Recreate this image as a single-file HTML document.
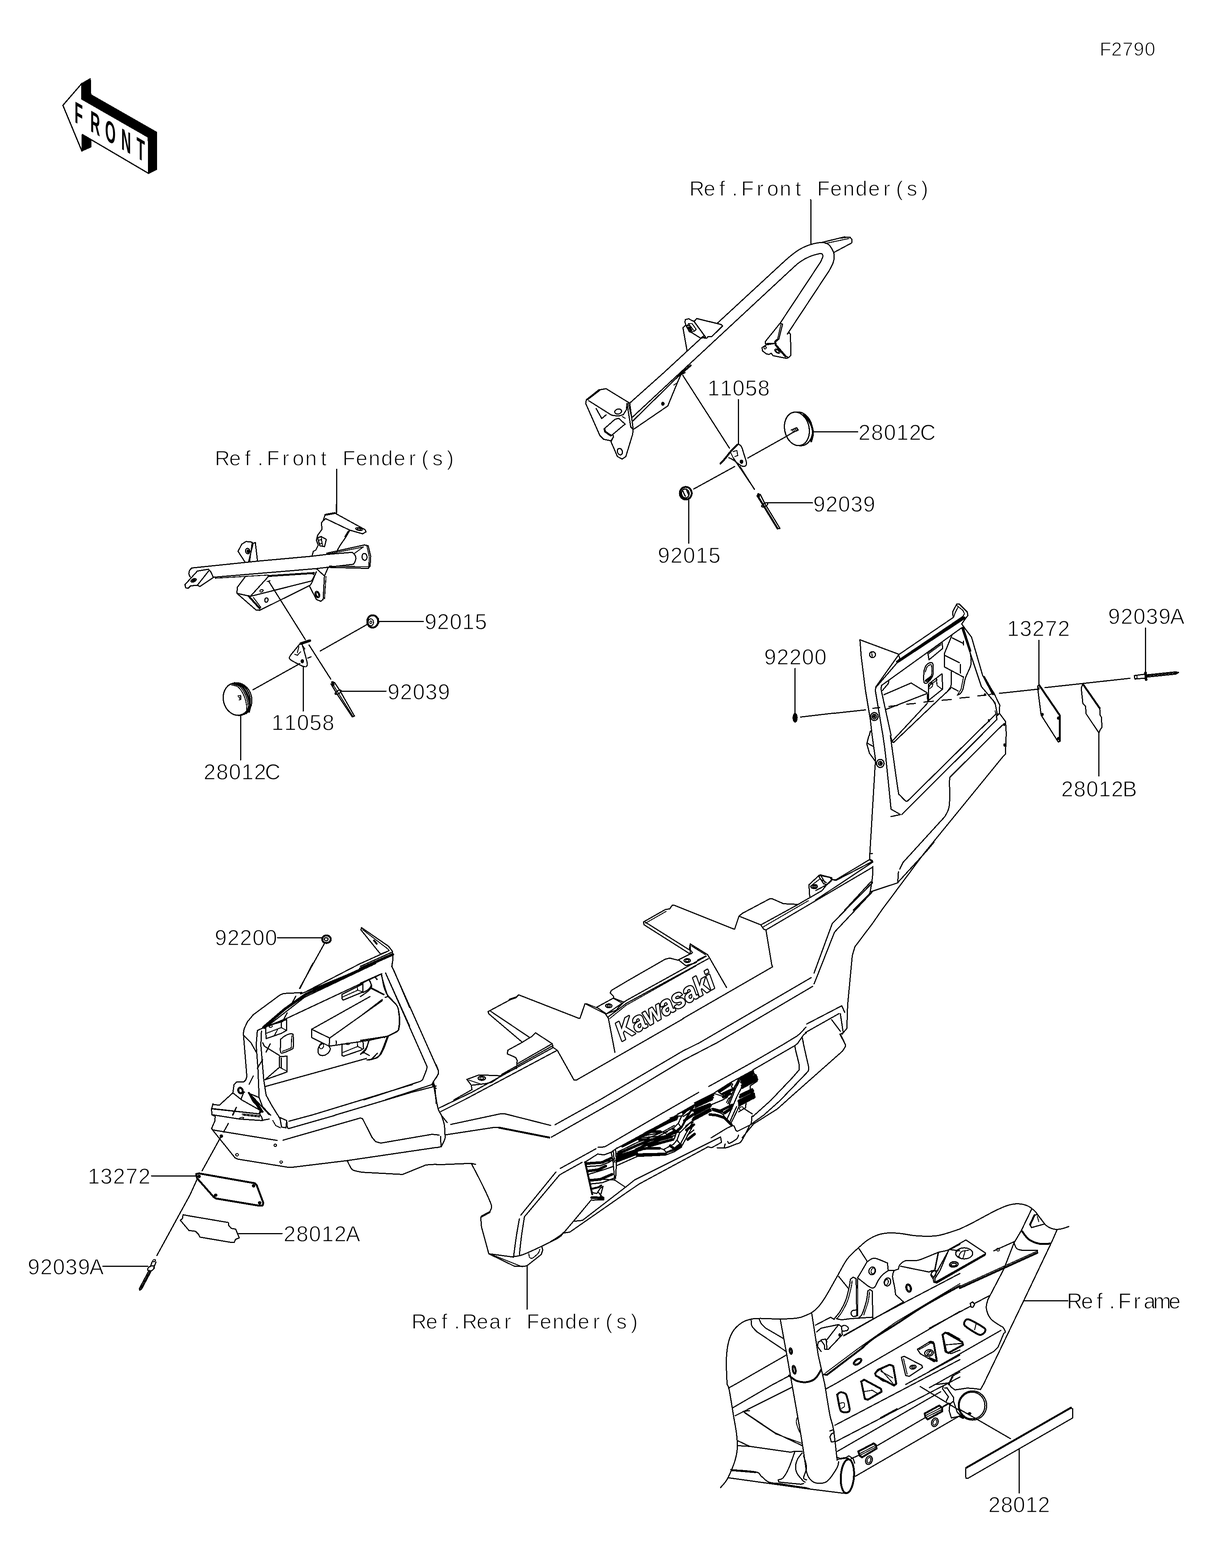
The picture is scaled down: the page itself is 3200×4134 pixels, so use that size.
<!DOCTYPE html>
<html lang="en">
<head>
<meta charset="utf-8">
<title>F2790 Reflectors - parts diagram</title>
<style>
html,body{margin:0;padding:0;background:#fff}
body{width:3200px;height:4134px;overflow:hidden}
svg{display:block;position:absolute;left:0;top:0;shape-rendering:crispEdges}
.l{fill:none;stroke:#000;stroke-width:3;stroke-linecap:round;stroke-linejoin:round}
.l2{fill:none;stroke:#000;stroke-width:2.4;stroke-linecap:round;stroke-linejoin:round}
.l4{fill:none;stroke:#000;stroke-width:5;stroke-linecap:round;stroke-linejoin:round}
.l5{fill:none;stroke:#000;stroke-width:7;stroke-linecap:round;stroke-linejoin:round}
.ld{fill:none;stroke:#000;stroke-width:3;stroke-dasharray:26 14}
.f{fill:#000;stroke:#000;stroke-width:2;stroke-linejoin:round}
.w{fill:#fff;stroke:#000;stroke-width:3.2;stroke-linejoin:round}
text{font-family:"Liberation Sans",sans-serif;fill:#000}
.t{font-size:54px;text-anchor:middle;stroke:#fff;stroke-width:1.5px}
</style>
</head>
<body>
<svg width="3200" height="4134" viewBox="0 0 3200 4134">
<rect width="3200" height="4134" fill="#fff"/>
<g id="10_bracket_tr">
<path class="l" d="M1750 982.3L2062.2 693.8M2062.2 693.8C2065 691.4 2072.5 684.2 2078.5 679.2C2084.5 674.2 2091.5 668.4 2098 663.9C2104.5 659.4 2110.5 655.6 2117.5 652.2C2124.6 648.8 2132.2 645.9 2140.3 643.7C2148.4 641.6 2159.3 639.2 2166.3 639.2C2173.4 639.2 2178.1 640.9 2182.6 643.7C2187 646.6 2190.3 651.6 2193 656.4C2195.7 661.3 2198.3 666.7 2198.8 672.7C2199.4 678.7 2198.4 685.4 2196.2 692.2C2194.1 699 2187.6 709.8 2185.8 713.4M2185.8 713.4L2075.3 880.9M1774.4 999.9L2085 711.1M2085 711.1C2088.8 707.8 2099.6 697 2107.8 691.2C2115.9 685.5 2125.1 680.3 2133.8 676.6C2142.5 672.9 2154.2 669.9 2159.8 668.8C2165.4 667.7 2165.8 668.8 2167.3 670.1C2168.8 671.4 2169.6 673.2 2168.9 676.6C2168.2 680 2164 688.3 2163.1 690.6M2163.1 690.6L2055.7 853.2M2166.3 639.2L2224.9 624.9L2240.5 625.5L2245.7 631.4L2245 640.5L2198.8 665.2M2137 580L2137 642.8M2055.7 852.6L2062.9 854.8L2053.1 893.9L2044.4 901.3L2046 909.2L2072 939.4L2078.5 942.7L2085 936.2L2083.4 880.9L2080.1 876.6L2075.3 880.9M2054.1 854.8L2017.4 900.4L2017.4 906.2L2041.1 905.3M2042.7 905.3L2020 909.2L2008.6 916.6L2010.2 925.4L2020 932.9L2027.1 934.5L2033 931.3L2037.8 937.8L2073.6 944.9L2078.5 942.7"/>
<path class="l2" d="M2176.1 641.8L2237.9 628.8M2215.1 628.1L2228.1 626.5M2058.3 855.8L2049.9 892.9L2042.1 900.4L2043.4 910.1L2070.4 941.7M2019.6 916.6C2019.6 918.6 2018.3 920.2 2016.7 920.2C2015.1 920.2 2013.8 918.6 2013.8 916.6C2013.8 914.7 2015.1 913.1 2016.7 913.1C2018.3 913.1 2019.6 914.7 2019.6 916.6ZM2055.6 930.2C2054.2 932.3 2050.2 931.9 2046.6 929.5C2043.1 927 2041.4 923.3 2042.8 921.3C2044.3 919.2 2048.3 919.5 2051.8 922C2055.4 924.5 2057.1 928.2 2055.6 930.2ZM2053 928.4C2052.1 929.5 2049.8 929.3 2047.7 927.9C2045.7 926.4 2044.7 924.3 2045.5 923.1C2046.3 922 2048.7 922.2 2050.7 923.6C2052.8 925.1 2053.8 927.2 2053 928.4Z"/>
<path class="w" d="M1829.5 847.5L1836.6 839.9L1900.5 855.4L1904.9 859.4L1875.6 887.8L1866.8 887.3L1863.2 891.4L1857 891.4L1851.7 887.8L1847.3 891.9L1859.7 888.7Z"/>
<path class="l" d="M1829.5 847.5L1859.7 888.7M1806.4 842.6L1815.3 840.4L1824.2 845.2L1829.5 847.2M1806.4 842.6L1805.6 849.7L1807.9 856.8L1800.2 863.9L1810.9 924.2M1807.9 856.8L1817.1 874.5L1822.4 876.3L1847.3 891.9M1545.5 1054.1L1578.1 1028.1L1597.6 1024.8L1656.1 1060.6L1660 1063.2L1669.1 1132.1L1667.5 1145.2L1649.6 1203.7L1639.9 1210.2L1627.5 1203.7L1610.6 1164.7L1616.4 1153.3M1545.5 1054.1L1543.9 1063.8L1581.3 1148.4L1591.1 1158.2L1610.6 1162.1L1617.1 1152.3L1615.5 1145.2M1552 1056.7L1612.2 1094.7L1630.1 1097L1643.1 1093.1L1651.2 1080.1L1652.9 1063.8M1571.6 1077.5L1586.2 1103.5L1597.6 1093.8M1652.9 1063.8L1662.6 1125.6L1669.1 1132.1M1638.2 1082.6C1639.2 1086.1 1636 1090 1631.1 1091.3C1626.3 1092.6 1621.6 1090.8 1620.7 1087.3C1619.7 1083.9 1622.9 1080 1627.8 1078.7C1632.6 1077.4 1637.3 1079.2 1638.2 1082.6ZM1640.1 1188.5C1641.8 1193 1640.4 1197.7 1637 1198.9C1633.6 1200.2 1629.5 1197.5 1627.9 1192.9C1626.2 1188.4 1627.6 1183.7 1631 1182.4C1634.4 1181.2 1638.5 1183.9 1640.1 1188.5ZM1592.7 1130.5L1621 1105.5L1630.8 1102.9M1646.4 1119.1L1612.2 1147.8L1597.6 1140.3M1630.8 1102.9L1648 1118.5M1749.8 982.5L1659.4 1063.2M1774.2 1000.1L1666.5 1100.3M1668.5 1109.4L1792.7 987.4M1671.7 1130.8L1760.2 1070.3L1783.6 1013.4L1794.4 988.4M1805.7 982.5L1794.4 988.4M1799.9 989.7L1922.8 1181.6"/>
<path class="l2" d="M1810.9 858.5L1815.3 853.2L1824.2 853.2L1835.2 868.3L1830.4 873.1L1820.6 875.4L1815.3 871.3L1808.6 860M1815.3 853.2L1818.9 858.5L1830.4 873.1M1810.9 858.5L1818.9 858.5M1656.1 1062.2L1665.2 1102.9M1639.9 1098L1648 1102.9M1776.5 1015.1L1786.2 1008.5"/>
<path class="f" d="M1813.5 863L1818.9 861.2L1824.2 871L1820.6 873.6ZM1750.8 1064.5C1750.8 1066.8 1749.2 1068.7 1747.2 1068.7C1745.2 1068.7 1743.6 1066.8 1743.6 1064.5C1743.6 1062.2 1745.2 1060.3 1747.2 1060.3C1749.2 1060.3 1750.8 1062.2 1750.8 1064.5Z"/>
<path class="l4" d="M1548.8 1052.5L1579.7 1028.7M1593.3 1130.8L1595 1138L1609.9 1148.4M1786.2 992.9L1820.4 963.7"/>
</g>
<g id="11_small_tr">
<path class="l" d="M1946.1 1053L1946.1 1170.3M1946.1 1170.3C1947.5 1171.6 1952 1173.2 1954.6 1178C1957.1 1182.8 1959.3 1192.1 1961.5 1199.1C1963.7 1206.1 1967.2 1215.2 1967.6 1220.2C1968 1225.2 1966.1 1227.8 1963.8 1229.1C1961.5 1230.4 1959 1230.7 1953.8 1227.9C1948.6 1225.2 1938.1 1216.1 1932.6 1212.6C1927.2 1209 1923 1207.7 1921.1 1206.8M1932.6 1206.8L1988.4 1289.4M1971.1 1207.6L2096 1137.6"/>
<path class="l4" d="M1944.2 1172.2C1941.3 1175.1 1932.3 1183.4 1926.9 1189.5C1921.4 1195.6 1916.1 1203.3 1911.5 1208.7C1906.9 1214.2 1901.3 1219.9 1899.2 1222.2"/>
<path class="l2" d="M1932.6 1190.6L1942.3 1187.6L1944.6 1201L1936.9 1203.7M1926.9 1195.3L1936.5 1214.5"/>
<path class="f" d="M1958.4 1217.2C1958.4 1219.7 1956.7 1221.8 1954.6 1221.8C1952.4 1221.8 1950.7 1219.7 1950.7 1217.2C1950.7 1214.6 1952.4 1212.6 1954.6 1212.6C1956.7 1212.6 1958.4 1214.6 1958.4 1217.2Z"/>
<path class="l" d="M2140.6 1123.5C2145.8 1147.8 2134.8 1170.7 2116.1 1174.7C2097.4 1178.6 2078.1 1162.2 2072.9 1137.9C2067.8 1113.6 2078.7 1090.7 2097.4 1086.7C2116.1 1082.7 2135.4 1099.2 2140.6 1123.5Z"/>
<path class="w" d="M2132.2 1124C2137.3 1148.1 2127.3 1170.6 2109.9 1174.3C2092.4 1178 2074.2 1161.5 2069 1137.4C2063.9 1113.3 2073.9 1090.8 2091.4 1087.1C2108.8 1083.4 2127.1 1099.9 2132.2 1124Z"/>
<path class="l4" d="M2119.1 1093.8C2122 1097.6 2132.4 1108.5 2136.4 1116.5C2140.3 1124.4 2142.6 1133.6 2142.9 1141.4C2143.2 1149.3 2139.1 1160 2138.3 1163.7M1823.2 1300.5C1823.2 1309.6 1816.3 1317 1807.6 1317C1799 1317 1792 1309.6 1792 1300.5C1792 1291.3 1799 1283.9 1807.6 1283.9C1816.3 1283.9 1823.2 1291.3 1823.2 1300.5Z"/>
<path class="l" d="M2065.3 1154.9L2092.9 1138.4M2142.1 1138.4L2260.5 1138.4M2023 1325.9L2142.1 1325.9M1816.2 1299.2C1817.4 1305.7 1813.9 1311.7 1808.5 1312.6C1803.1 1313.6 1797.8 1309.1 1796.7 1302.7C1795.5 1296.3 1799 1290.3 1804.4 1289.3C1809.8 1288.4 1815.1 1292.8 1816.2 1299.2ZM1800.5 1295.1C1800.9 1296 1801.9 1298.8 1802.9 1301C1803.9 1303.1 1805.9 1306.9 1806.4 1308.1M1810 1292.7C1810.5 1293.9 1812.1 1297.4 1813.1 1299.8C1814.1 1302.1 1815.4 1305.7 1815.9 1306.9M1794.6 1301C1795.1 1302.1 1796.3 1306.3 1797.5 1308.1C1798.6 1309.8 1801 1311 1801.7 1311.6M1815.9 1312.8L1815.9 1432.2M1828.9 1289.1L1936.5 1230M1950.7 1230L1988.6 1290.3M1995.2 1306.9L2012.2 1334.1L2048.9 1394.4L2056 1393.2L2017 1329.3L2004 1303.8M2023.6 1326.7C2024.7 1328.8 2022.2 1332.4 2017.9 1334.9C2013.6 1337.4 2009.2 1337.8 2008 1335.7C2006.8 1333.7 2009.4 1330 2013.7 1327.6C2018 1325.1 2022.4 1324.7 2023.6 1326.7Z"/>
<path class="l2" d="M2085.2 1133.8L2099.9 1127.2L2104.5 1133.8L2090.2 1140.7M2088.3 1133L2091.4 1139.5M2092.2 1131.4L2095.2 1138M2096 1129.9L2099.1 1136.4M2099.9 1128.4L2102.2 1134.5M2000.4 1310.4L2050.1 1392"/>
<path class="l5" d="M1999.2 1303.8L1999.9 1308.1"/>
<text class="t" style="font-size:57px" x="1880.8 1913.8 1946.9 1980 2013" y="1042.5">11058</text>
<text class="t" style="font-size:57px" x="2278.6 2312 2345.5 2378.9 2412.4 2445.8" y="1160">28012C</text>
<text class="t" style="font-size:57px" x="2159.4 2192.3 2225.2 2258.1 2291" y="1348.5">92039</text>
<text class="t" style="font-size:57px" x="1749.7 1783.1 1816.5 1849.9 1883.3" y="1484.3">92015</text>
</g>
<g id="20_bracket_l">
<path class="l" d="M886.7 1330L886.7 1353.4M856.8 1357.6L882.8 1352.8L962.5 1396.7L964.8 1402.2L956 1407.4L921.9 1397.7L858.4 1367.4L853.6 1372.3M856.8 1357.6L851.9 1372.3L847 1378.8L849 1395.1L837.3 1411.3L834 1424.3L838.9 1437.3L832.4 1450.3L825.9 1453.6L822.7 1465M921.9 1398.3L912.1 1415.2L895.8 1439L885.4 1457.5M837.3 1417.8L846.4 1414.6L860.1 1422L855.5 1441.2L843.1 1439L837.3 1417.8M645.4 1481.2L627.5 1453.6L637.3 1434.7L648.6 1427.6L663.3 1429.2L667.2 1432.8L655.2 1481.2M667.2 1432.8L673 1430.2L678.6 1478M658.3 1452C659 1455.9 657.1 1459.5 654.1 1460C651.1 1460.5 648.1 1457.8 647.4 1453.9C646.7 1450 648.6 1446.4 651.6 1445.9C654.6 1445.4 657.6 1448.1 658.3 1452ZM505.5 1497.5L677.9 1479.6L821 1466.6L861.7 1461.7L928.4 1456.2M562.5 1521.9L834 1499.1L931.6 1487.7M928.4 1456.2C929.6 1457.4 933.9 1460.7 935.5 1463.4C937.1 1466 938.1 1469.2 938.1 1472.1C938.1 1475.1 936.6 1478.6 935.5 1481.2C934.4 1483.8 932.3 1486.7 931.6 1487.7M505.5 1497.5C504.6 1498.6 500.9 1501.3 499.7 1504C498.4 1506.7 497.7 1510.9 498.1 1513.8C498.4 1516.6 501 1520 501.6 1521.2M487.6 1541.4L520.2 1505.6L549.4 1500.8L555 1506.3L562.5 1522.5L526.7 1546.3L520.2 1543L502.3 1544.7L495.8 1551.2L489.3 1549.5L487.6 1541.4M520.2 1543L551.1 1504M516.9 1527C517.8 1529 515.6 1531.9 512.1 1533.6C508.5 1535.2 504.8 1535 503.9 1533.1C503 1531.1 505.2 1528.2 508.8 1526.5C512.3 1524.8 516 1525.1 516.9 1527ZM861.7 1458.5L960.9 1436.7L970.6 1439L977.1 1466.6L975.5 1492.6L970.6 1498.5L866.6 1495.9M967.4 1467.7C967.8 1472.7 965.3 1477 961.7 1477.3C958.1 1477.6 954.8 1473.8 954.4 1468.8C954 1463.8 956.5 1459.5 960.1 1459.2C963.7 1458.8 966.9 1462.7 967.4 1467.7ZM834 1499.1L855.2 1518.6L851.9 1580.4L845.4 1585.3L834 1580.4L816.2 1546.3M864.9 1496.5L855.2 1518.6M841.8 1565.5C843.5 1570.1 842.5 1574.6 839.6 1575.7C836.8 1576.7 833.1 1573.9 831.4 1569.3C829.8 1564.8 830.8 1560.2 833.6 1559.2C836.5 1558.1 840.2 1561 841.8 1565.5ZM645.4 1521.9L625.9 1547.9L624.3 1564.2L674.7 1608.1L684.4 1609.1L817.8 1543L822.7 1534.9L829.2 1518.6L834 1507.3M624.3 1564.2L660 1572.3L707.2 1520.3M660 1572.3L821 1531.7M706.5 1582.8C705.9 1586 703.6 1588.2 701.3 1587.8C699 1587.4 697.6 1584.5 698.1 1581.3C698.7 1578.2 701 1575.9 703.3 1576.3C705.6 1576.7 707 1579.6 706.5 1582.8ZM708.8 1533.3L804.8 1686.2"/>
<path class="l4" d="M857.5 1357.3L882.2 1352.8M655.2 1571.3L684.4 1603.9M707.2 1518.6L827.5 1510.8"/>
<path class="l2" d="M918 1399.9L908.8 1415.2M955.2 1396.9C954.7 1398.9 950.4 1399.6 945.5 1398.5C940.6 1397.5 936.9 1395.1 937.3 1393.2C937.8 1391.2 942.1 1390.5 947 1391.6C951.9 1392.6 955.6 1395 955.2 1396.9ZM951.3 1396.1C951.1 1397.2 948.7 1397.6 945.8 1397C943 1396.4 940.9 1395 941.2 1394C941.4 1392.9 943.8 1392.5 946.7 1393.1C949.5 1393.7 951.6 1395.1 951.3 1396.1ZM848.6 1427.8C849.1 1430.8 847.7 1433.6 845.4 1434C843.1 1434.4 840.8 1432.3 840.3 1429.3C839.8 1426.3 841.2 1423.5 843.5 1423.1C845.8 1422.7 848.1 1424.8 848.6 1427.8ZM846.4 1414.6L850.3 1439M664.3 1431.5L658.4 1479.6M567.3 1524.5L707.2 1516M864.9 1460.8L957.6 1442.2L934.9 1458.5M967.4 1440.6L973.2 1466.6L972.3 1494.3L868.2 1492.6M859.4 1520.3L855.5 1578.8M839.4 1566.4C840.4 1569.3 840.1 1572.1 838.5 1572.6C837 1573.2 834.9 1571.3 833.9 1568.4C832.8 1565.6 833.2 1562.8 834.7 1562.2C836.3 1561.7 838.3 1563.6 839.4 1566.4ZM668.2 1575.6L687.7 1601.6M693.6 1556.1C694.1 1557.6 692.7 1559.6 690.3 1560.4C687.9 1561.3 685.6 1560.8 685 1559.2C684.5 1557.7 685.9 1555.8 688.3 1554.9C690.7 1554.1 693 1554.6 693.6 1556.1ZM822.7 1512.1L829.2 1517L821 1531.7M703.9 1533.3L712.1 1531"/>
<path class="f" d="M656.4 1453.1C656.8 1455.3 655.9 1457.2 654.5 1457.4C653.1 1457.7 651.7 1456.2 651.3 1454C650.9 1451.9 651.8 1450 653.2 1449.8C654.6 1449.5 656 1451 656.4 1453.1ZM514 1528.4C514.4 1529.4 513.2 1530.9 511.2 1531.8C509.3 1532.7 507.3 1532.7 506.9 1531.7C506.4 1530.7 507.6 1529.2 509.6 1528.3C511.5 1527.3 513.5 1527.4 514 1528.4Z"/>
</g>
<g id="21_small_l">
<path class="l" d="M814.8 1700.8L871.8 1790.3M790.4 1697.6C788 1700.6 780.1 1710 775.8 1715.5C771.5 1720.9 766.3 1726.3 764.4 1730.1C762.5 1733.9 761.7 1735.3 764.4 1738.2C767.1 1741.2 775.3 1745 780.7 1748C786.1 1751 792.6 1754.5 796.9 1756.1C801.3 1757.7 804.5 1758.8 806.7 1757.7C808.9 1756.7 810.4 1755 810 1749.6C809.5 1744.2 806.3 1733.4 804.1 1725.2C801.9 1717.1 798.1 1704.9 796.9 1700.8M811.6 1735L819.7 1731.7M666.8 1818.6L790.4 1749.6M844.1 1716.4L969.3 1645.5M998.6 1638.4L1115.4 1638.4M799.2 1757.7L799.2 1874.8"/>
<path class="l5" d="M793 1696.9L816.5 1689.1"/>
<path class="l2" d="M787.8 1704.7L783.9 1721M777.4 1725.2L783.9 1727.5L792.4 1718.7M796.9 1701.5L803.5 1710.6L800.2 1713.8M984.6 1640.7C984.6 1645.7 981.4 1649.8 977.5 1649.8C973.5 1649.8 970.3 1645.7 970.3 1640.7C970.3 1635.6 973.5 1631.5 977.5 1631.5C981.4 1631.5 984.6 1635.6 984.6 1640.7ZM980.1 1640.7C980.1 1642.5 978.9 1643.9 977.5 1643.9C976 1643.9 974.9 1642.5 974.9 1640.7C974.9 1638.9 976 1637.4 977.5 1637.4C978.9 1637.4 980.1 1638.9 980.1 1640.7ZM988.8 1623.4L998 1630.9L998.6 1642.3L992.1 1652"/>
<path class="f" d="M800.5 1743.1C800.5 1745.6 798.9 1747.7 796.9 1747.7C795 1747.7 793.4 1745.6 793.4 1743.1C793.4 1740.6 795 1738.6 796.9 1738.6C798.9 1738.6 800.5 1740.6 800.5 1743.1Z"/>
<path class="l4" d="M996.7 1638.4C996.7 1647.4 990.2 1654.6 982.3 1654.6C974.4 1654.6 968 1647.4 968 1638.4C968 1629.4 974.4 1622.1 982.3 1622.1C990.2 1622.1 996.7 1629.4 996.7 1638.4Z"/>
<path class="l" d="M662.5 1834.5C668.3 1857.7 657.2 1880.4 637.6 1885.3C618.1 1890.1 597.6 1875.3 591.8 1852.1C586 1828.9 597.2 1806.2 616.7 1801.3C636.2 1796.4 656.7 1811.3 662.5 1834.5Z"/>
<path class="w" d="M658 1834.8C663.7 1857.8 653.1 1880.3 634.3 1884.9C615.5 1889.6 595.6 1874.8 589.8 1851.8C584.1 1828.8 594.7 1806.3 613.5 1801.6C632.4 1796.9 652.3 1811.8 658 1834.8Z"/>
<path class="l2" d="M609.9 1805.6C612.9 1806.5 622.7 1807.5 627.8 1811.4C633 1815.4 637.3 1822.3 640.8 1829.3C644.4 1836.3 647.4 1845.8 649 1853.7C650.5 1861.6 650.7 1871.5 649.9 1876.5C649.1 1881.5 645.1 1882.4 644.1 1883.6M613.2 1803.3C616.3 1804.4 626.3 1805.5 631.7 1809.8C637.1 1814.1 642.1 1822 645.7 1829.3C649.3 1836.6 651.8 1846.1 653.2 1853.7C654.5 1861.3 654.5 1870.1 653.8 1874.8C653.1 1879.6 649.8 1881.1 649 1882.3M627.2 1834.8L634.3 1833.5L635 1843.9L630.4 1845.6M629.4 1837.4L632.7 1842.3M879.9 1808.2L930.3 1888.8"/>
<path class="l4" d="M618.1 1801C621.3 1802.5 631.9 1804.5 637.6 1809.8C643.3 1815 648.7 1824.2 652.2 1832.6C655.7 1841 658 1852.9 658.7 1860.2C659.4 1867.5 656.8 1873.8 656.4 1876.5"/>
<path class="l" d="M634.3 1886.2L634.3 2003.3M872.4 1803.3L889.6 1831.6L928.7 1890.1L934.2 1887.8L896.2 1821.2L881.5 1799.1M899.2 1820.5C900.2 1822.4 897.6 1825.9 893.2 1828.5C888.9 1831 884.5 1831.5 883.4 1829.6C882.3 1827.8 885 1824.2 889.3 1821.7C893.7 1819.2 898.1 1818.7 899.2 1820.5ZM897.8 1822.1L1018.1 1822.1"/>
<path class="l5" d="M876.6 1799.1L878.3 1805.6"/>
<text class="t" style="font-size:57px" x="731.7 765.1 798.5 831.9 865.3" y="1925.3">11058</text>
<text class="t" style="font-size:57px" x="1135 1168.2 1201.3 1234.4 1267.6" y="1659">92015</text>
<text class="t" style="font-size:57px" x="1037.4 1070.6 1103.8 1136.9 1170.1" y="1843.6">92039</text>
<text class="t" style="font-size:57px" x="552.5 585.8 619 652.3 685.5 718.8" y="2055.4">28012C</text>
</g>
<g id="30_fender_tr">
<path class="l" d="M2367.5 1724.3L2266.7 1686.8L2269.9 1729.1L2281.3 1820.2L2294.3 1898.3L2298.9 1939.9M2307.7 1725.9C2307.7 1730.2 2304.2 1733.7 2299.9 1733.7C2295.5 1733.7 2292 1730.2 2292 1725.9C2292 1721.6 2295.5 1718.1 2299.9 1718.1C2304.2 1718.1 2307.7 1721.6 2307.7 1725.9ZM2369.1 1725.9L2309 1810.4L2307.3 1820.2L2323.6 1917.8L2327.5 1939.9M2369.1 1725.9L2512.2 1628.3M2309 1812.1L2366.5 1745.4M2367.5 1724.3L2371.7 1735.6L2366.5 1745.4M2375.6 1735.6L2538.3 1625.1M2512.2 1628.3L2511.6 1612L2522 1592.5L2528.5 1592.5L2549.6 1613.7L2551.3 1622.4L2541.5 1635.5L2535 1645.2M2323.6 1807.2L2535 1655M2323.6 1807.2L2322.3 1816.9L2349 1939.9M2326.2 1820.2L2341.5 1802.3L2343.1 1794.2M2330.1 1831.6L2401.7 1800.7L2443.9 1826.7M2335 1870.6L2443.9 1828.3L2445.6 1851.1M2350.6 1955.2L2444.3 1854.4M2350.6 1955.2L2355.5 1957.5L2478.4 1840.4L2505.7 1815.3M2535 1645.2L2561 1680.3L2590.3 1781.2L2619.6 1826.7L2635.2 1859.2L2634.2 1880.4L2650.5 1902.2L2652.7 1939.9M2535 1655L2557.8 1722.6L2587 1810.4L2622.8 1852.7L2629.3 1885.3M2445.6 1721L2483 1693.4L2484.9 1709.6L2448.8 1739.5L2445.6 1721M2435.8 1768.2C2436.6 1766 2438.2 1758.6 2440.7 1755.2C2443.1 1751.7 2447.5 1748.6 2450.4 1747.7C2453.4 1746.7 2457.1 1746.4 2458.6 1749.3C2460 1752.2 2459.2 1759.6 2459.2 1764.9C2459.2 1770.2 2460 1776.3 2458.6 1781.2C2457.1 1786 2453.2 1790.8 2450.4 1794.2C2447.7 1797.5 2444.8 1800.5 2442.3 1801.3C2439.9 1802.1 2437.1 1801.9 2435.8 1799.1C2434.6 1796.2 2434.8 1789.6 2434.8 1784.4C2434.8 1779.3 2435.6 1770.9 2435.8 1768.2M2447.2 1803.9L2483 1776.3L2484.9 1816.9L2447.2 1846.9L2447.2 1803.9M2509 1675.5L2489.5 1722.6L2489.5 1758.4L2538.3 1784.4M2489.5 1727.5L2528.5 1747M2531.8 1751.9L2531.8 1774.7M2507.4 1771.4C2507.4 1776.8 2507.9 1796.9 2507.4 1803.9C2506.8 1811 2505.7 1810.7 2504.1 1813.7C2502.5 1816.7 2498.7 1820.5 2497.6 1821.8M2507.4 1812.1L2525.3 1821.8M2557.8 1722.6C2558 1727.5 2561.6 1741.1 2559.4 1751.9C2557.2 1762.7 2548.3 1776.8 2544.8 1787.7C2541.2 1798.5 2540.4 1810.2 2538.3 1816.9C2536.1 1823.7 2534.2 1825.7 2531.8 1828.3C2529.3 1830.9 2525 1831.9 2523.6 1832.6M2510.6 1682L2539.9 1696.6M2539.9 1690.1L2539.9 1700.5M2200 1880.4L2281.3 1871.6M2300.8 1867.4L2318.7 1865.7M2343.1 1862.5L2365.9 1859.9M2390.3 1856.6L2413 1854.7M2435.8 1851.1L2460.2 1848.8M2483 1846.2L2507.4 1844.3M2530.1 1840.4L2554.5 1838.1M2577.3 1834.8L2598.4 1832.6M2634.2 1828L2736.7 1816.9M2314.5 1889.2C2314.5 1894.9 2310.1 1899.6 2304.7 1899.6C2299.3 1899.6 2295 1894.9 2295 1889.2C2295 1883.4 2299.3 1878.7 2304.7 1878.7C2310.1 1878.7 2314.5 1883.4 2314.5 1889.2ZM2310.3 1889.2C2310.3 1892.6 2307.8 1895.3 2304.7 1895.3C2301.7 1895.3 2299.2 1892.6 2299.2 1889.2C2299.2 1885.7 2301.7 1883 2304.7 1883C2307.8 1883 2310.3 1885.7 2310.3 1889.2ZM2625.1 1882.6L2566.6 1939.9M2634.2 1880.4L2626.7 1889.2L2627.7 1896.6L2585.1 1939.9M2646.9 1907.4L2613.4 1939.9M2294.3 1927.5L2291.1 1939.9"/>
<path class="l2" d="M2297.6 1719.4L2299.2 1732.4M2522 1596.4L2538.3 1609.4L2542.2 1617.9L2538.3 1625.1M2525.3 1600.7L2517.1 1616.9L2513.9 1626.7M2590.3 1781.2L2616.3 1831.6M2448.8 1722.6L2479.7 1699.9M2439.1 1771.4C2439.9 1769.2 2441.8 1761.5 2443.9 1758.4C2446.1 1755.3 2450.2 1753.1 2452.1 1752.5C2454 1752 2454.8 1750.7 2455.3 1755.2C2455.9 1759.7 2456.9 1772.8 2455.3 1779.5C2453.7 1786.3 2448.3 1793.1 2445.6 1795.8C2442.9 1798.5 2440.1 1795.8 2439.1 1795.8M2468.3 1787.7L2470 1807.2L2483 1816.9M2450.4 1807.2L2470 1792.6M2448.8 1812.1C2449.6 1810.4 2452.1 1804.2 2453.7 1802.3C2455.3 1800.4 2458 1799.3 2458.6 1800.7C2459.1 1802 2458.3 1808 2456.9 1810.4C2455.6 1812.9 2451.5 1814.5 2450.4 1815.3M2539.9 1784.4L2533.4 1816.9L2525.3 1830M2606.6 1831.6L2613.1 1830M2617.9 1846.2L2621.2 1854.4M2624.5 1862.5L2626.1 1865.7M2622.8 1873.9L2626.1 1885.3M2626.1 1885.3L2627.7 1898.3"/>
<path class="l5" d="M2365.9 1744.7L2541.5 1629"/>
<path class="l4" d="M2538.3 1654.3L2557.8 1716.1M2593.6 1784.4L2619.6 1830M2440.7 1794.2L2453.7 1784.4"/>
<path class="f" d="M2598.1 1831.6C2598.1 1833 2597.2 1834.2 2596.2 1834.2C2595.1 1834.2 2594.2 1833 2594.2 1831.6C2594.2 1830.1 2595.1 1829 2596.2 1829C2597.2 1829 2598.1 1830.1 2598.1 1831.6ZM2307.3 1889.2C2307.3 1890.8 2306.2 1892.1 2304.7 1892.1C2303.3 1892.1 2302.1 1890.8 2302.1 1889.2C2302.1 1887.5 2303.3 1886.2 2304.7 1886.2C2306.2 1886.2 2307.3 1887.5 2307.3 1889.2ZM2608.5 1899.9C2608.5 1901.5 2607.6 1902.8 2606.6 1902.8C2605.5 1902.8 2604.6 1901.5 2604.6 1899.9C2604.6 1898.3 2605.5 1897 2606.6 1897C2607.6 1897 2608.5 1898.3 2608.5 1899.9ZM2648.8 1910.6C2648.8 1912.1 2648.1 1913.2 2647.2 1913.2C2646.3 1913.2 2645.6 1912.1 2645.6 1910.6C2645.6 1909.2 2646.3 1908 2647.2 1908C2648.1 1908 2648.8 1909.2 2648.8 1910.6Z"/>
</g>
<g id="31_fender_r2">
<path class="l" d="M2299 1940L2307.9 2003.9L2306.1 2028.7L2291.9 2266.4M2290.2 1940L2284.8 1961.3L2291.9 1986.1L2306.1 2005.6M2286.6 1959.5L2302.6 1968.4M2330.2 2012.7C2330.2 2018.6 2325.8 2023.4 2320.3 2023.4C2314.8 2023.4 2310.4 2018.6 2310.4 2012.7C2310.4 2006.9 2314.8 2002.1 2320.3 2002.1C2325.8 2002.1 2330.2 2006.9 2330.2 2012.7ZM2325.3 2012.7C2325.3 2015.7 2323.1 2018.1 2320.3 2018.1C2317.6 2018.1 2315.3 2015.7 2315.3 2012.7C2315.3 2009.8 2317.6 2007.4 2320.3 2007.4C2323.1 2007.4 2325.3 2009.8 2325.3 2012.7ZM2327.4 1940C2328.6 1948.9 2331 1961 2334.5 1993.2C2338.1 2025.5 2346.3 2110 2348.7 2133.4M2348.7 2133.4L2373.5 2147.6L2348.7 2152.9M2352.6 1956.7L2346.9 1940M2346.9 1940C2349 1954.8 2355.8 2003.9 2359.3 2028.7C2362.9 2053.5 2366.1 2077.8 2368.2 2089C2370.3 2100.3 2368.5 2092.3 2371.8 2096.1C2375 2100 2384.2 2109.6 2387.7 2112.1C2391.3 2114.6 2392.2 2111.2 2393.1 2111M2393.1 2111L2566.6 1940M2377.1 2147.6L2585 1940M2504.8 2048.2L2613.4 1940M2504.8 2048.2C2504.5 2049.7 2503.3 2046.2 2503 2057.1C2502.7 2068 2503.6 2100.9 2503 2113.9C2502.5 2126.9 2501.6 2128.6 2499.5 2135.2C2497.4 2141.7 2492.1 2149.9 2490.6 2152.9M2490.6 2152.9L2380.6 2273.5L2371.8 2291.3M2368.2 2298.4L2366.4 2326.8M2652.1 1940L2650.3 1987.9L2645 1993.2L2433.9 2252.2L2323.9 2399.8M2366.4 2326.8L2444.5 2241.6L2462.2 2220.3M2366.4 2327.5L2293.7 2351.6L2290.2 2358.7L2249.3 2399.8M2300.8 2284.2C2300.6 2288.9 2300.9 2301.3 2299.7 2312.6C2298.6 2323.8 2294.7 2345.1 2293.7 2351.6M2291.9 2266.4L2300.8 2272.8L2150 2372.9M2291.9 2266.4L2203.2 2319.7L2194.4 2318.9M2157.1 2309L2162.4 2306.5L2192.6 2314.3L2190.8 2323.2L2180.2 2332.1L2171.3 2330.3L2157.1 2309M2162.4 2306.5L2174.8 2326.8M2180.2 2332.1L2150 2348M2154.3 2337.4C2154.3 2340.1 2152.4 2342.4 2150 2342.4C2147.6 2342.4 2145.7 2340.1 2145.7 2337.4C2145.7 2334.7 2147.6 2332.4 2150 2332.4C2152.4 2332.4 2154.3 2334.7 2154.3 2337.4ZM2295.5 2325L2226.3 2399.8"/>
<path class="f" d="M2323.2 2012.7C2323.2 2014.1 2322.2 2015.2 2321 2015.2C2319.8 2015.2 2318.9 2014.1 2318.9 2012.7C2318.9 2011.4 2319.8 2010.3 2321 2010.3C2322.2 2010.3 2323.2 2011.4 2323.2 2012.7ZM2649.6 1964.1C2649.6 1966.1 2648.8 1967.7 2647.8 1967.7C2646.8 1967.7 2646 1966.1 2646 1964.1C2646 1962.2 2646.8 1960.6 2647.8 1960.6C2648.8 1960.6 2649.6 1962.2 2649.6 1964.1Z"/>
</g>
<g id="32_fender_c">
<path class="l" d="M2300 2271.1L2203.5 2321.1L2193.9 2319.2L2188.1 2313.4L2159.3 2307.7L2132.4 2332.6L2134.3 2363.4M2188.1 2313.4L2192 2319.2L2180.5 2330.7L2167 2348L2103.6 2384.5M2154.3 2337.6C2154.3 2340.4 2150.5 2342.6 2145.9 2342.6C2141.2 2342.6 2137.4 2340.4 2137.4 2337.6C2137.4 2334.9 2141.2 2332.6 2145.9 2332.6C2150.5 2332.6 2154.3 2334.9 2154.3 2337.6ZM2103.6 2384.5L2065.1 2382.6L2036.3 2369.9L2028.6 2369.9L1957.5 2407.6L1947.9 2415.3L1936.4 2449.9L1930.6 2448L1776.8 2386.5L1772.2 2386.5L1765.3 2396.1L1753.8 2398L1696.1 2430.7L1698 2438.4L1819.1 2515.2M1947.9 2415.3L2005.6 2438.4L2013.2 2449.9L2019 2451.8L2300 2286.5M2005.6 2438.4L2107.4 2382.6M2019 2451.8L2034.4 2544.1L2036.3 2549.1L1799.9 2685.5M1700 2430.7L1819.1 2505.6M1819.1 2515.2L1819.1 2488.3L1865.3 2517.1L1871 2526.8L1915.2 2603.6M1788.4 2530.6L1819.1 2515.2M1788.4 2530.6L1807.6 2546L1834.5 2538.3L1840.3 2530.6L1859.5 2521M1819.9 2532.5C1819.9 2535.3 1816.1 2537.5 1811.4 2537.5C1806.8 2537.5 1803 2535.3 1803 2532.5C1803 2529.8 1806.8 2527.5 1811.4 2527.5C1816.1 2527.5 1819.9 2529.8 1819.9 2532.5ZM1650 2588.3L1753.8 2528.7L1765.3 2526L1788.4 2531.8M1650 2638.2L1861.4 2521M1650 2645.9L1867.2 2527.5M2300 2326.9L2193.9 2434.5L2145.9 2565.2M2300 2350.7L2199.7 2457.6L2145.9 2594M2138.2 2577.5L1842.2 2750.1M2142 2600.6L1888.3 2750.1M2300 2434.5L2253.5 2496L2246.6 2519.1L2234.3 2649.8L2232.3 2711.3L2219.7 2726.6M2218.9 2651.7L2126.6 2699.7M2212 2672.1L2122.8 2722.4M2218.9 2651.7L2226.6 2669M2215.1 2672.8L2222.7 2722.8L2215.1 2726.6L2226.6 2750.1M2192 2688.2L2215.1 2719M2124.3 2708.2L2109.3 2724.7L2100.1 2732L2069 2750.9M2114.3 2733.6L2117.8 2750.1M2300 2250L2292.7 2250L2292.7 2265.4L2300 2269.2"/>
<path class="l2" d="M2159.3 2307.7L2161.2 2317.3L2178.5 2326.9M2161.2 2317.3L2136.3 2336.5M2150.5 2337.6C2150.5 2339.1 2148.4 2340.3 2145.9 2340.3C2143.3 2340.3 2141.2 2339.1 2141.2 2337.6C2141.2 2336.2 2143.3 2334.9 2145.9 2334.9C2148.4 2334.9 2150.5 2336.2 2150.5 2337.6ZM2011.3 2444.1L2130.5 2374.9M1701.9 2433.7L1755.7 2403M1819.1 2488.3L1817.2 2500.6L1825.3 2511.4L1821.4 2515.2M1823 2494.1L1859.5 2517.1M1815.7 2532.5C1815.7 2534 1813.8 2535.2 1811.4 2535.2C1809.1 2535.2 1807.2 2534 1807.2 2532.5C1807.2 2531 1809.1 2529.8 1811.4 2529.8C1813.8 2529.8 1815.7 2531 1815.7 2532.5ZM1650 2650.5L1834.5 2546.7"/>
</g>
<g id="33_fender_c2">
<path class="l" d="M1650.1 2588.4L1611.3 2611.4L1608.6 2617.6L1617 2626.8L1617.8 2632.9M1572.8 2655.6L1617 2631.4L1643.9 2642.2L1631.3 2654.8L1624.7 2663.3L1597.8 2672.9L1572.8 2655.6M1613.2 2651.8C1613.2 2654.5 1609.4 2656.8 1604.7 2656.8C1600.1 2656.8 1596.3 2654.5 1596.3 2651.8C1596.3 2649 1600.1 2646.8 1604.7 2646.8C1609.4 2646.8 1613.2 2649 1613.2 2651.8ZM1597.8 2673.7L1650.1 2638.3M1602.8 2681.4L1650.1 2646M1542.1 2646L1595.9 2672.9L1603.6 2684.4L1620.9 2774.8M1542.1 2646L1528.6 2685.2L1524.8 2684.4L1367.2 2622.9L1359.5 2630.6L1346 2635.2L1286.5 2667.1L1288.4 2672.9L1376.8 2747.9M1293 2666L1396 2735.2M1392.2 2738.3L1376.8 2747.9L1338.4 2769L1337.6 2778.6L1359.5 2788.2L1363.3 2795.9L1361.4 2817.1M1392.2 2738.3L1400.6 2733.6L1411.4 2722.9L1455.6 2751.7L1457.5 2761.3L1469 2769L1513.2 2847.8L1519 2847.8L1800 2686.4M1455.6 2751.7L1365.3 2803.6M1457.5 2756.7L1323 2832.4M1457.5 2762.1L1242.3 2880.5M1469 2769L1223 2900.1M1230.7 2845.9L1261.5 2834.4L1273 2834.4L1319.1 2836.3L1361.4 2815.9M1230.7 2845.9L1242.3 2861.3L1244.2 2872.8L1196.1 2900.1M1242.3 2861.3L1276.8 2857.4L1296.1 2853.6L1334.5 2826.7M1279.5 2842.8C1279.5 2845.8 1275.2 2848.2 1269.9 2848.2C1264.6 2848.2 1260.3 2845.8 1260.3 2842.8C1260.3 2839.8 1264.6 2837.4 1269.9 2837.4C1275.2 2837.4 1279.5 2839.8 1279.5 2842.8ZM1800 2770.9L1580.5 2900.1M1800 2795.9L1626.6 2900.1M1150 2807.5C1151 2810.7 1155.8 2820.9 1155.8 2826.7C1155.8 2832.4 1151 2839.5 1150 2842"/>
<path class="l2" d="M1618.2 2632.9L1638.2 2644.1M1609 2651.8C1609 2653 1607.1 2654.1 1604.7 2654.1C1602.4 2654.1 1600.5 2653 1600.5 2651.8C1600.5 2650.5 1602.4 2649.5 1604.7 2649.5C1607.1 2649.5 1609 2650.5 1609 2651.8ZM1607.4 2685.2L1650.1 2650.6M1545.9 2646L1576.7 2658.3M1290.3 2665.2L1344.1 2636.4M1342.2 2634.5L1359.5 2628.7M1236.5 2847.8L1265.3 2857.4M1274.9 2842.8C1274.9 2844.3 1272.7 2845.5 1269.9 2845.5C1267.2 2845.5 1264.9 2844.3 1264.9 2842.8C1264.9 2841.3 1267.2 2840.1 1269.9 2840.1C1272.7 2840.1 1274.9 2841.3 1274.9 2842.8Z"/>
</g>
<g id="34_fender_lh_right">
<path class="l" d="M953 2445.8L1023.9 2494.6L1034.3 2507.9L1035.7 2518.3M953 2445.8L951.5 2451.7L1001.7 2513.8M950 2540.4L1025.4 2506.4M950 2547.8L1034.3 2510M1035.7 2518.3L1035.7 2530.1L1032.8 2547.8L1035.7 2553.8L1155.5 2822.8L1155.5 2831.7L1142.2 2852.4L1137.8 2859.8M1016.5 2565.6L1125.9 2812.5L1124.5 2819.9L1114.1 2846.5L1108.2 2850.9L958.9 2900M1137.8 2859.8L1015.1 2900M1142.2 2853.9L1149.6 2900M1006.2 2567.1L950 2592.2M1004.7 2568.5C1005.9 2573 1009.6 2586.8 1012.1 2595.2C1014.6 2603.5 1017.5 2613.4 1019.5 2618.8C1021.5 2624.2 1019.5 2622.3 1023.9 2627.7C1028.4 2633.1 1041.7 2644.9 1046.1 2651.3C1050.5 2657.7 1049.4 2659.7 1050.5 2666.1C1051.7 2672.5 1052.9 2681.9 1052.9 2689.8C1052.9 2697.7 1051.4 2708.5 1050.5 2713.4C1049.6 2718.4 1048.1 2718.4 1047.6 2719.3M1047.6 2719.3L1023.9 2731.2L1012.1 2763.7L1004.7 2778.5L994.4 2788.8L978.1 2793.8L967.7 2794.7M973.7 2584.8C974.6 2587 978.8 2594.9 979.6 2598.1C980.3 2601.3 979.6 2601.6 978.1 2604C976.6 2606.5 975.4 2608.9 970.7 2612.9C966 2616.8 953.4 2625.2 950 2627.7M978.1 2604L1012.1 2621.8M1007.7 2635.1L950 2679.4M950 2743L1012.1 2733.5L1013.6 2735.6M1016.5 2732.6L1023.9 2731.2M973.7 2741.5C972.2 2745.2 968.7 2757.3 964.8 2763.7C960.8 2770.1 952.5 2777.2 950 2780M994.4 2777L981 2791.8M960.3 2775.5L973.7 2782.9"/>
<path class="l2" d="M955.9 2450.9L1022.4 2502L1025.4 2506.4L1003.2 2515.3M1015.1 2629.2L1021 2627.7M988.4 2577.4L994.4 2581.8"/>
<path class="l4" d="M986.1 2479.8L992.9 2488.1"/>
<path class="l5" d="M950 2553.8L1035.2 2516.2"/>
</g>
<g id="35_fender_lh">
<path class="l" d="M824.5 2540L790.6 2606.1M779.9 2626.1L769.1 2646.1M756.8 2670.7L744.5 2693.8M712.2 2752.2L701.5 2773.7M692.2 2793.7L678.4 2816.8M667.6 2836.7L656.9 2858.3M643 2878.3L635.3 2898.2M623 2919.8L613.8 2940.1M987.4 2540C957.7 2552.3 841.4 2601 809.1 2613.8C776.8 2626.6 804 2616 793.7 2616.9C783.5 2617.8 755.3 2618.9 747.6 2619.3M747.6 2619.3L738.4 2623L667.6 2675.3L652.3 2693.8L643.6 2712.2L641.5 2724.5L650.7 2838.3L647.6 2847.5L643 2852.1L623 2853L616.9 2859.8L613.8 2881.3L578.5 2913.6L560 2912.1M950.5 2540L809.1 2613.2M990.5 2540L802.9 2629.2L696.8 2711.6M1005.9 2567.7L756.8 2684.5L692.2 2710.7M692.2 2710.7L678.4 2716.8L675.3 2755.3L679.9 2816.8L683 2893.6L692.2 2918.2L713.8 2940.1M689.2 2718.4L687.6 2755.3L695.3 2847.5L701.5 2887.5L716.8 2915.2L732.2 2940.1M643.6 2730.7L661.5 2749.1L675.3 2773.7M699.9 2864.4L827.5 2829.1L965.9 2790.6M1080 2861.3L821.4 2940.1M1080 2881.3L882.9 2940.1M699.9 2706.1L738.4 2695.3L755.3 2687.6L755.3 2716.8L741.4 2724.5L701.5 2738.3L699.9 2706.1M739.9 2739.9C741.7 2738.4 746.8 2733.6 750.7 2731.3C754.5 2729 759.6 2726.9 763 2726C766.3 2725.2 769 2725.3 770.6 2726C772.3 2726.8 772.4 2724.8 772.8 2730.7C773.2 2736.6 773.9 2755.3 772.8 2761.4C771.7 2767.6 770.7 2765.1 766 2767.6C761.3 2770 749 2775.4 744.5 2776.2C740 2776.9 740.1 2775.7 739.3 2772.2C738.4 2768.7 739.2 2760.6 739.3 2755.3C739.4 2749.9 739.8 2742.4 739.9 2739.9M736.8 2786L756.8 2784.5L756.8 2826L744.5 2830.6L698.4 2846.9M736.8 2786L736.8 2813.7L698.4 2846.9M692.2 2749.1L696.8 2758.3L736.8 2782.9M821.4 2713.7L975.1 2627.6M821.4 2713.7L869 2736.8L1007.4 2638.4M821.4 2713.7L821.4 2735.3L867.5 2758.3L869 2736.8M867.5 2758.3L972.1 2743L1021.3 2732.2M886 2744.5L886 2752.2M901.3 2621.5L956.7 2593.8L956.7 2615.3L904.4 2636.9L901.3 2632.3L901.3 2621.5M901.3 2752.2L901.3 2782.9L905.9 2784.5L950.5 2769.1L958.2 2764.5L956.7 2744.5M975.1 2586.1C975.7 2587.9 978.5 2593.6 978.2 2596.9C978 2600.2 975.7 2603.6 973.6 2606.1C971.6 2608.7 968.7 2610.5 965.9 2612.3C963.1 2614.1 958.2 2616.1 956.7 2616.9M978.2 2606.1L1012 2623M1015.1 2629.8L1021.3 2627.6M1005.9 2569.2C1006.9 2574.6 1009.5 2592.5 1012 2601.5C1014.6 2610.5 1015.6 2614.8 1021.3 2623C1026.9 2631.2 1040.7 2642.5 1045.9 2650.7C1051 2658.9 1050.7 2665.1 1052 2672.2C1053.3 2679.4 1053.7 2687.1 1053.6 2693.8C1053.5 2700.4 1052.4 2708.1 1051.4 2712.2C1050.4 2716.3 1052.4 2715 1047.4 2718.4C1042.4 2721.7 1025.6 2729.9 1021.3 2732.2M1021.3 2732.2C1019.2 2737.6 1012.6 2756 1009 2764.5C1005.4 2772.9 1003.3 2778.6 999.7 2782.9C996.2 2787.3 992.8 2788.7 987.4 2790.6C982.1 2792.6 970.8 2794 967.5 2794.6M972.1 2743C971 2746.5 968.5 2758.8 965.9 2764.5C963.4 2770.1 958.2 2774.7 956.7 2776.8M959.8 2775.2L973.6 2782.9M993.6 2778.3L978.2 2793.7M867.5 2758.9C868 2760.1 871.1 2763 870.6 2766C870.1 2769 867.5 2774 864.4 2776.8C861.4 2779.6 856 2782.4 852.1 2782.9C848.3 2783.4 843.7 2781.9 841.4 2779.9C839.1 2777.8 838.3 2774.2 838.3 2770.6C838.3 2767 839.3 2761.7 841.4 2758.3C843.4 2755 849.1 2751.9 850.6 2750.6M1033.6 2540L1033.6 2549.2L1038.2 2558.5L1080 2656.9M1016.7 2566.1L1080 2706.1M640.2 2872.9C641.8 2877.3 640.3 2882 636.7 2883.3C633.2 2884.6 629.1 2882 627.4 2877.5C625.8 2873 627.3 2868.4 630.9 2867.1C634.4 2865.8 638.5 2868.4 640.2 2872.9ZM613.8 2881.3L636.9 2899.8L686.1 2927.5L683 2936.7L560 2922.9M655.3 2881.3L666.1 2902.9L689.2 2928.1M656.9 2882.9L683 2893.6M640 2878.3L644.6 2879.8"/>
<path class="l5" d="M981.3 2542.5L806 2621.5L750.7 2660.5L694.7 2708.5"/>
<path class="l2" d="M741.4 2695.3L741.4 2709.1L755.3 2716.8M701.5 2724.5L741.4 2709.1M723 2730.7L732.8 2712.2M717.8 2704.6C718.3 2705.9 716.8 2707.6 714.6 2708.4C712.4 2709.2 710.2 2708.8 709.7 2707.5C709.2 2706.3 710.7 2704.6 712.9 2703.7C715.1 2702.9 717.3 2703.3 717.8 2704.6ZM743.9 2772.2L767.6 2762.9L769.1 2730.7M736.8 2813.7L756.8 2824.4M741.4 2789.1L741.4 2815.2M941.3 2601.5L942.9 2610.7L956.7 2615.3M902.9 2628.6L942.9 2610.7M941.3 2746.6L942.9 2758.9L956.7 2766M902.9 2775.2L942.9 2758.9M920.4 2752.2C920.4 2753.4 918.8 2754.3 916.7 2754.3C914.7 2754.3 913 2753.4 913 2752.2C913 2751 914.7 2750 916.7 2750C918.8 2750 920.4 2751 920.4 2752.2ZM990.5 2576.9L993.6 2583.1M852.7 2759.6C851.3 2763.4 847.9 2765.7 845 2764.7C842.1 2763.6 840.9 2759.7 842.3 2755.8C843.7 2752 847.2 2749.7 850 2750.8C852.9 2751.8 854.1 2755.8 852.7 2759.6ZM637.6 2873.8C638.7 2876.9 637.9 2879.9 635.8 2880.7C633.7 2881.4 631.1 2879.6 630 2876.6C628.9 2873.5 629.7 2870.5 631.8 2869.7C633.9 2868.9 636.5 2870.8 637.6 2873.8Z"/>
<path class="l4" d="M661.5 2887.5L679.9 2912.1L692.2 2931.2"/>
</g>
<g id="36_fender_ll">
<path class="l" d="M561.5 2910L557.7 2923.4L558.4 2938.8L567.3 2943.8L566.1 2956.1L557.7 2975.3L563.4 2983L619.2 3052.2L626.8 3056L757.5 3077.2L772.9 3077.2L915.1 3059.9L1150 3025.3M558.4 2923.4L684.5 2936.9L688.4 2929.2M558.4 2938.8L630.7 2950.3L688.4 2954.2L709.5 2950.3M684.5 2936.9L690.3 2946.5L692.2 2954.2M557.7 2975.3L561.5 2979.2L730.6 3006.8M746 3006.1L949.7 2947.6L955.5 2949.2L980.5 2998.4L990.1 3009.9L1003.5 3013.8L1138.1 2990.7L1150 2991.5M623 2919.6L613.4 2938.8M601.9 2961.9L589.2 2984.9M582.6 2996.5L532.7 3086.8M519.2 3109.9L500 3152.1M738.3 2946.5L755.6 2954.2L757.5 2973.4L761.4 2975.3M730.6 2936.9L738.3 2950.3L742.2 2971.5L753.7 2973.4L755.6 2956.1M761.4 2956.1L821.3 2940M761.4 2975.3L882.9 2940.7M1080 2861.5L1086.2 2860M1080 2881.1L1150 2863.1M657.6 2882.3L709.5 2938.8M915.1 3059.9C916.4 3062.4 920.3 3071.1 922.8 3075.3C925.4 3079.4 925.4 3082.3 930.5 3084.9C935.6 3087.4 949.7 3089.7 953.6 3090.6M953.6 3090.6L1061.2 3096.4L1122.7 3071.4L1150 3069.5M1145.8 2860L1150 2910M500 3100.2L517.3 3100.2M500 3205.9L601.9 3223.2L603 3230.9L609.6 3238.6L621.1 3240.5L630.7 3263.6L621.1 3267.5L617.2 3275.9L611.5 3275.9L526.9 3261.7L523.1 3254L515.4 3246.3L500 3244.4M628.8 3252.1L744.1 3252.1"/>
<path class="l2" d="M638.4 2936.9L684.5 2941.5M640.3 2940L683.7 2944.6M642.4 2946.8C642.7 2948 640.3 2949.8 637.1 2950.6C633.8 2951.5 630.8 2951.2 630.5 2950C630.2 2948.8 632.6 2947.1 635.9 2946.2C639.1 2945.3 642.1 2945.6 642.4 2946.8ZM628.4 3044.5C628.4 3046.4 626.8 3048 624.9 3048C623 3048 621.5 3046.4 621.5 3044.5C621.5 3042.6 623 3041 624.9 3041C626.8 3041 628.4 3042.6 628.4 3044.5ZM729.1 3019.5C729.1 3021.2 727.5 3022.6 725.6 3022.6C723.7 3022.6 722.2 3021.2 722.2 3019.5C722.2 3017.8 723.7 3016.4 725.6 3016.4C727.5 3016.4 729.1 3017.8 729.1 3019.5ZM744.5 3063.7C744.5 3065.4 742.9 3066.8 741 3066.8C739.1 3066.8 737.6 3065.4 737.6 3063.7C737.6 3062 739.1 3060.7 741 3060.7C742.9 3060.7 744.5 3062 744.5 3063.7ZM719.1 2954.2L726.8 2967.6L739.1 2973.4"/>
<path class="f" d="M586.9 2995.3C586.9 2997.2 585.3 2998.8 583.4 2998.8C581.5 2998.8 580 2997.2 580 2995.3C580 2993.4 581.5 2991.8 583.4 2991.8C585.3 2991.8 586.9 2993.4 586.9 2995.3ZM528.4 3101.4C528.4 3103.3 526.9 3104.9 525 3104.9C523.1 3104.9 521.5 3103.3 521.5 3101.4C521.5 3099.5 523.1 3097.9 525 3097.9C526.9 3097.9 528.4 3099.5 528.4 3101.4ZM671.8 3126.4C671.8 3128.3 670.3 3129.8 668.4 3129.8C666.5 3129.8 664.9 3128.3 664.9 3126.4C664.9 3124.5 666.5 3122.9 668.4 3122.9C670.3 3122.9 671.8 3124.5 671.8 3126.4ZM571.9 3151C571.9 3152.9 570.3 3154.4 568.4 3154.4C566.5 3154.4 565 3152.9 565 3151C565 3149.1 566.5 3147.5 568.4 3147.5C570.3 3147.5 571.9 3149.1 571.9 3151ZM688 3171.4C688 3173.3 686.4 3174.8 684.5 3174.8C682.6 3174.8 681 3173.3 681 3171.4C681 3169.4 682.6 3167.9 684.5 3167.9C686.4 3167.9 688 3169.4 688 3171.4Z"/>
<path class="l4" d="M655.7 2881.1L688.4 2931.1M517.3 3095.2L525 3093.7L671.1 3119.5L676.8 3125.2L694.1 3171.4L692.2 3178.3L684.5 3179L569.2 3159.8L563.4 3156L519.2 3106L517.3 3095.2"/>
<text class="t" style="font-size:57px" x="763.4 796.8 830.2 863.7 897.1 930.5" y="3273.2">28012A</text>
</g>
<g id="37_fender_bl">
<path class="l" d="M1150 2870L1140.4 2861.5L1142.3 2850M1142.3 2850C1144.2 2861.5 1150.3 2904.1 1153.8 2919.2C1157.3 2934.2 1160.5 2932.6 1163.4 2940.3C1166.3 2948 1169.5 2956.7 1171.1 2965.3C1172.7 2974 1172.8 2985.8 1173 2992.2C1173.2 2998.6 1173.9 2998.6 1172.3 3003.8C1170.7 3008.9 1164.9 3019.8 1163.4 3023M1163.4 3023L1150 3026M1161.5 2996.1L1162.3 3021.1M1150 2991.5L1157.7 2993M1163.4 2940.3L1178.8 2959.6M1242.2 2880.4L1157.7 2921.1M1223 2900L1161.5 2930.7M1188.4 2964.5L1319.1 2936.5L1330.6 2936.5L1451.7 2967.2M1173 2992.2L1303.7 2972.2L1315.3 2973M1463.2 2965.3L1580.5 2900M1453.6 2998L1626.6 2900M1476.7 3080.6L1570.9 3028.7M1576.6 3024.9L1593.9 3023.7L1750 2932.6M1372.9 3203.6L1465.2 3090.2M1150 3071L1242.2 3067.2L1253.8 3069.9M1242.2 3067.2C1246.7 3075.8 1260.8 3102.1 1269.1 3119.1C1277.5 3136 1287.8 3158.2 1292.2 3169C1296.6 3179.9 1295.6 3179.9 1295.3 3184.4C1294.9 3188.9 1291.1 3194 1290.3 3195.9M1267.2 3209.4L1269.1 3234.4L1288.4 3305.5L1355.6 3338.2L1384.4 3338.2L1390.2 3336.3L1426.7 3307.4L1430.6 3295.9L1428.7 3288.2M1369.1 3213.2C1367.8 3220.6 1363.9 3240.8 1361.4 3257.5C1358.8 3274.1 1355 3303.9 1353.7 3313.2M1382.5 3207.5C1381.2 3215.8 1377.1 3240.8 1374.8 3257.5C1372.6 3274.1 1370 3299.1 1369.1 3307.4M1353.7 3313.2C1358.8 3311.9 1365.2 3313.5 1384.4 3305.5C1403.7 3297.5 1452.4 3274.4 1469 3265.1C1485.7 3255.8 1481.8 3252.3 1484.4 3249.8M1288.4 3305.5L1353.7 3314.3M1389.1 3336.3L1389.1 3350.1M1384.4 3205.6L1474.8 3097.9L1484.4 3092.2L1534.4 3064.5"/>
<path class="l4" d="M1315.3 2973L1447.9 2999.1M1269.1 3207.5L1290.3 3195.9"/>
<path class="l2" d="M1299.9 3309.3L1376.8 3340.1M1394.1 3305.5C1394.4 3307.1 1394.4 3313.2 1396 3315.1C1397.6 3317 1399.8 3319 1403.7 3317C1407.5 3315.1 1415.8 3307.4 1419 3303.6C1422.2 3299.7 1422.2 3295.6 1422.9 3294"/>
</g>
<g id="38_grille">
<path class="l4" d="M1542.3 3063.9L1561.2 3149M1557.9 3134.8L1577.7 3130.1L1584.8 3125.4"/>
<path class="l" d="M1542.3 3063.9L1575.4 3042.6L1591.9 3044.9L1610.9 3037.8L1627.4 3026M1544.6 3075.7L1582.5 3073.3L1606.1 3063.9L1620.3 3054.4M1551.7 3096L1591.9 3083.7L1615.6 3075.7M1555 3121.6L1587.2 3118.3L1617.9 3106.4M1561.2 3144.3L1573 3146.6L1582.5 3132.5L1589.6 3127.7M1589.6 3127.7L1582.5 3153.7M1561.2 3164.2L1591.9 3163.2L1589.6 3157.5L1577.7 3144.3M1610.9 3037.8L1615.6 3059.1L1620.3 3111.2M1622.7 3030.7L1625 3063.9L1622.7 3106.4M1616.5 3034.5L1619.4 3063.9M1587.2 3063.9L1615.6 3059.1M1587.2 3108.8L1620.3 3111.2M1620.3 3111.2L1648.7 3130.1M1558.8 3163.2L1511.5 3220M1511.5 3220L1535.2 3217.6L1648.7 3130.1L1672.4 3111.2L1899.4 2997.6L1901.8 3011.8L1875.8 3026L1866.3 3023.6M1485.5 3250.7L1502 3248.4L1658.2 3139.6L1686.5 3120.6L1866.3 3023.6M1450 3274.4C1453.2 3272.4 1463 3266.5 1468.9 3262.6C1474.8 3258.6 1482.7 3252.7 1485.5 3250.7M1485.5 3250.7L1511.5 3220M1975.1 2969.2C1973.2 2973.2 1967.2 2985.8 1963.3 2992.9C1959.4 3000 1955.4 3007.9 1951.5 3011.8C1947.5 3015.8 1946 3014.2 1939.7 3016.5C1933.3 3018.9 1921.9 3024.4 1913.6 3026C1905.4 3027.6 1893.9 3026 1890 3026M1918.4 3009.5C1919.2 3010.2 1919.2 3015.4 1923.1 3014.2C1927 3013 1938.1 3005.9 1942 3002.4C1946 2998.8 1946 2994.5 1946.7 2992.9M1911.3 3016.5L1908.9 3026"/>
<path class="l5" d="M1547 3067.6L1587.2 3064.8L1610.9 3053.4M1549.3 3087.5L1577.7 3083.7L1596.7 3074.3M1554.1 3112.1L1582.5 3109.3L1613.2 3096M1559.8 3157.5L1589.6 3158.5"/>
</g>
<g id="39_grille_mid">
<path class="l" d="M1626.6 3027.3L1697.6 2988.6L1759.7 2954.5L1804 2927.5L1830.6 2912.3M1628.4 3037L1683.4 3010.4L1695.8 3006.3L1745.5 2985L1777.4 2967.3M1626.6 3046.8L1676.3 3031.2L1717.1 3005.1L1759.7 2983.3M1624.8 3054.7L1678.1 3036.1L1706.4 3027.6L1745.5 3002.8L1777.4 2993.9M1623.1 3064.5L1678.1 3043.6L1754.3 3040L1777.4 3032.9L1795.2 3021.9M1624.8 3073.4L1679.8 3048.9L1754.3 3045.3L1777.4 3036.5L1796.9 3024.1M1685.2 2998L1715.3 2982.9L1740.2 2982.5L1752.6 2986.4L1759.7 2993.5L1756.1 2995.3L1686.9 2999.2M1694 2995.3L1741.9 2986.4M1750.8 2986.4L1777.4 2972.3L1788.1 2961.6L1795.2 2972.3L1779.2 2986.4L1759.7 2993.5M1759.7 2990L1777.4 2981.1M1788.1 2961.6L1796.9 2942.1L1821.8 2918.1M1795.2 2972.3L1812.9 2938.5L1828.9 2915.5M1798.7 2970.5L1818.2 2935L1830.6 2915.5M1766.8 2947.4L1784.5 2942.1L1795.2 2942.1M1786.3 2936.8L1800.5 2929.7M1676.3 3030.8L1706.4 3026.9L1738.4 3026.9L1749 3030.8L1756.1 3037.9L1754.3 3040.6L1681.6 3042.3M1749 3030.8L1775.6 3016.6L1784.5 3006L1793.4 3016.6L1777.4 3029L1756.1 3037.9M1784.5 3006L1791.6 2986.4L1818.2 2961.6L1827.1 2958.1M1793.4 3016.6L1809.3 2986.4L1825.3 2959.8M1796.9 3021.9L1812.9 2993.5L1828.9 2963.4M1777.4 3002.4L1782.7 2986.4L1789.8 2984.7M1706.4 3015.2L1745.5 3002.8L1777.4 2994.3M1756.1 2995.3L1777.4 2986.4L1788.1 2975.8M1800.5 2943.9L1825.3 2927.9M1807.6 2968.7L1828.9 2952.7M1811.1 2993.5L1828.9 2979.3M1830.2 2907.9L1879.8 2883.4L1924.2 2855L1984.5 2822.2M1831.9 2920.6L1878.1 2899.3M1828.4 2945.5L1871 2922.4M1872.7 2913.5L1906.4 2899.3L1917.1 2892.3M1892.3 2876.3L1922.4 2856.8L1927.7 2855L1931.3 2858.5L1927.7 2865.6L1936.6 2871L1913.5 2885.2L1899.3 2883.4L1892.3 2876.3M1899.3 2883.4L1913.5 2892.3L1915.3 2894M1917.1 2892.3L1924.2 2878.1L1936.6 2871M1915.3 2906.4L1920.6 2895.8L1927.7 2892.3M1922.4 2911.8L1931.3 2917.1L1906.4 2933.1L1899.3 2927.7L1876.3 2922.4M1876.3 2922.4L1906.4 2938.4L1910 2945.5L1929.5 2966.8M1954.3 2840.8L1938.4 2871L1922.4 2911.8M1950.8 2840.8L1934.8 2871L1918.9 2910M1952.6 2871L1941.9 2892.3L1931.3 2917.1L1917.1 2949M1949 2915.3L1934.8 2945.5L1927.7 2959.7M1941.9 2917.1L1927.7 2949L1924.2 2957.9M1947.3 2844.4L1931.3 2874.5M1956.1 2856.8L1995.2 2839M1988.1 2892.3L1966.8 2906.4L1965 2920.6L1947.3 2931.3M1963.2 2924.2L1982.7 2936.6M1929.5 2966.8L1934.8 2968.5L1940.2 2981L1943.7 2982.7L1979.2 2965L1981 2956.1L1981.8 2943.7L1984.5 2941.9M1874.5 2999.9L1917.1 2973.9L1929.5 2968.5M2032.9 2900.1L1984.5 2943.7M2057.8 2900.1L2012.9 2940.2L1981 2963.2M2075.5 2900.1L2048.4 2924.2L1986.3 2963.2L1956.1 2999.9"/>
<path class="l5" d="M1699.3 2989.1L1741.9 2966.9L1782.7 2950.1M1640.8 3021.9L1683.4 3000.6M1628.4 3042.3L1678.1 3020.2L1717.1 3004.5M1626.6 3051.2L1676.3 3034.3M1624.8 3059.2L1678.1 3039.7M1679.8 3045.9L1754.3 3042.9M1686.9 2998.5L1715.3 2983.8L1740.2 2983.3M1773.9 2975.8L1781 2983.8M1678.1 3031.2L1706.4 3027.3L1738.4 3027.3M1766.8 3020.2L1775.6 3028.1M1715.3 2983.3L1759.7 2958.4L1784.5 2946M1724.2 2977.2L1777.4 2951.3M1685.2 3004.5L1717.1 3005.1L1756.1 2995.7L1777.4 2986.8M1676.3 3031.2L1706.4 3017L1741.9 3004.5L1770.3 2997.1M1710 3021.9L1747.3 3011.3L1773.9 3004.2M1777.4 3029.4L1793.4 3017M1779.2 2986.8L1795.2 2972.6M1800.5 2933.2L1823.5 2919M1804 2954.5L1827.1 2938.5M1809.3 2979.3L1828.9 2965.2M1812.9 3004.2L1830.6 2990M1833.7 2911.8L1879.8 2886.9M1828.4 2927.7L1871 2911.8M1830.2 2938.4L1872.7 2915.3M1826.6 2952.6L1872.7 2927.7M1906.4 2883.4L1934.8 2870.1M1901.1 2927.7L1929.5 2913.5M1871 2938.4L1888.7 2940.2L1910 2947.3L1927.7 2965M1959.7 2840.8L1984.5 2826.6M1954.3 2853.2L1991.6 2835.5M1956.1 2867.4L1995.2 2846.1M1952.6 2886.9L1982.7 2872.7M1947.3 2902.9L1986.3 2883.4M1949 2913.5L1988.1 2892.3M1835.5 2917.1L1878.1 2894M1831.9 2933.1L1871 2917.1M1828.4 2949L1871 2925.1M1895.8 2878.1L1924.2 2859.4M1906.4 2892.3L1924.2 2883.4M1879.8 2924.2L1902.9 2930.4M1910 2934.8L1927.7 2922.4M1954.3 2846.1L1984.5 2831M1956.1 2862.1L1993.4 2841.7M1950.8 2892.3L1984.5 2876.3M1949 2908.2L1987.2 2887.8"/>
<path class="l2" d="M1883.4 2883.4L1915.3 2894M1878.1 2927.7L1904.7 2936.6M1959 2919.8C1960.1 2921.8 1959 2924.6 1956.5 2926.1C1953.9 2927.6 1950.9 2927.1 1949.7 2925.1C1948.6 2923 1949.7 2920.2 1952.2 2918.7C1954.8 2917.3 1957.8 2917.7 1959 2919.8Z"/>
</g>
<g id="40_fender_conn">
<path class="l" d="M1800 2770.9L1842.2 2750M1800 2795.9L1888.3 2750M2323.9 2400L2300 2434.5M1750 2932.7L1841.7 2880M1868.3 2864.4L1930 2830.4M1930 2830.4L1992.1 2795.8L2068.4 2751.4M1985 2820.6L2095 2756.8L2102.1 2751.4L2114.5 2733.7L2118.1 2728.4L2125.2 2723.1M2095 2756.8C2095.4 2759.1 2096.3 2765.1 2097.7 2771C2099 2776.9 2101.5 2786 2103 2792.3C2104.5 2798.5 2105.9 2803.5 2106.5 2808.2C2107.1 2813 2106.5 2818.6 2106.5 2820.6M2106.5 2820.6L2089.7 2840.2L2032.9 2899.9M2114.5 2733.7C2115.1 2737 2116.3 2744.6 2118.1 2753.2C2119.8 2761.8 2122.9 2775.1 2125.2 2785.2C2127.4 2795.2 2130.5 2807 2131.4 2813.5C2132.2 2820 2130.6 2822.4 2130.5 2824.2M2130.5 2824.2L2057.7 2899.9M2213.9 2726.6L2228 2753.2L2228.9 2758.5L2221 2771L2075.5 2899.9M1985 2820.6L1985.9 2827.7L1993 2836.6L1992.1 2843.7L1996.5 2847.3L1995.6 2850.8L1977 2863.2L1977 2873.9L1985 2881L1984.1 2886.3L1988.5 2891.6L1986.8 2896.9"/>
</g>
<g id="50_frame_ul">
<path class="l" d="M1916.5 3650.1C1916.2 3639.1 1914 3603 1914.6 3584.4C1915.2 3565.7 1917.2 3551 1920.4 3538.2C1923.6 3525.4 1927.7 3516.1 1933.8 3507.5C1939.9 3498.8 1949.2 3491.3 1956.9 3486.3C1964.6 3481.4 1972.3 3479.6 1979.9 3477.9C1987.6 3476.2 1990.2 3476 2003 3476C2015.8 3475.9 2040.2 3477.7 2056.8 3477.5C2073.5 3477.3 2091.4 3476.5 2102.9 3474.8C2114.5 3473.1 2119.6 3469.7 2126 3467.1C2132.4 3464.6 2136.3 3463 2141.4 3459.4C2146.5 3455.9 2151 3452.7 2156.8 3446C2162.5 3439.3 2167.7 3432.5 2176 3419.1C2184.3 3405.6 2197.1 3381.9 2206.7 3365.3C2216.3 3348.6 2224 3331.9 2233.6 3319.1C2243.2 3306.3 2255.4 3296.7 2264.4 3288.4C2273.4 3280.1 2279.1 3274.6 2287.5 3269.2C2295.8 3263.7 2305.4 3258.8 2314.4 3255.7C2323.3 3252.6 2331.7 3251.4 2341.3 3250.7C2350.9 3250.1 2359.2 3250.6 2372 3251.9C2384.8 3253.1 2401.5 3257.4 2418.1 3258.4C2434.8 3259.4 2453.3 3260.6 2472 3257.6C2490.6 3254.6 2520.3 3243.2 2530 3240.3M1979.9 3478.7C1980.3 3481.5 1979.3 3490.5 1981.9 3495.9C1984.4 3501.4 1993.1 3508.8 1995.3 3511.3M1995.3 3511.3L2072.2 3563.2M2001.1 3476.7C2002 3479 2004 3486 2006.8 3490.2C2009.7 3494.3 2016.5 3499.8 2018.4 3501.7M2018.4 3501.7L2064.5 3528.6M2056.8 3478.7L2074.1 3572.8L2087.6 3650.1M2139.5 3461.4L2156.8 3572.8L2174.1 3650.1M2088.3 3561.4C2089.1 3566 2088.1 3570 2086 3570.4C2083.9 3570.8 2081.5 3567.3 2080.7 3562.7C2079.9 3558.1 2080.9 3554.1 2083 3553.7C2085.1 3553.4 2087.5 3556.8 2088.3 3561.4ZM2097.9 3610.5C2099 3616.7 2097.8 3622.2 2095.3 3622.6C2092.8 3623.1 2089.9 3618.3 2088.8 3612.1C2087.7 3605.8 2088.8 3600.4 2091.3 3599.9C2093.8 3599.5 2096.8 3604.2 2097.9 3610.5ZM1937.7 3650.1L2072.2 3572.8M2037.6 3650.1L2081.8 3626.6M2264.4 3292.2L2285.5 3324.9M2210.6 3365.3L2235.6 3396M2285.5 3326.8C2287.8 3325.4 2294.8 3319.8 2299 3318.4C2303.1 3317 2303.8 3316.4 2310.5 3318.4C2317.2 3320.3 2334.5 3328 2339.3 3329.9M2339.3 3329.9L2341.3 3349.9M2341.3 3349.9C2338.7 3351.8 2330.4 3356.9 2325.9 3361.4C2321.4 3365.9 2317.6 3371.7 2314.4 3376.8C2311.2 3381.9 2309.2 3389 2306.7 3392.2C2304.1 3395.4 2302.2 3396.3 2299 3396C2295.8 3395.7 2289.4 3391.2 2287.5 3390.2M2287.5 3390.2L2260.5 3369.1L2272.1 3349.9L2285.5 3326.8M2307.2 3352.8C2305.7 3358.4 2300.8 3361.9 2296.3 3360.7C2291.8 3359.5 2289.3 3354 2290.8 3348.5C2292.3 3342.9 2297.2 3339.4 2301.7 3340.6C2306.2 3341.8 2308.6 3347.3 2307.2 3352.8ZM2341.3 3349.9L2356.6 3349.9L2368.2 3346M2347.5 3382.1C2346 3387.8 2341.1 3391.5 2336.6 3390.3C2332 3389.1 2329.6 3383.4 2331.2 3377.7C2332.7 3371.9 2337.6 3368.3 2342.1 3369.5C2346.6 3370.7 2349.1 3376.3 2347.5 3382.1ZM2368.2 3346C2368.8 3344.1 2368.8 3338.2 2372 3334.5C2375.2 3330.8 2379.7 3325.7 2387.4 3323.7C2395.1 3321.8 2408.5 3324.7 2418.1 3323C2427.8 3321.2 2435.8 3316.9 2445.1 3313.4C2454.3 3309.8 2464.6 3304.8 2473.9 3301.8C2483.2 3298.8 2491.4 3298.8 2500.8 3295.3C2510.1 3291.8 2525.1 3283.1 2530 3280.7M2356.6 3349.9C2356 3352.4 2352.5 3357.6 2352.8 3365.3C2353.1 3372.9 2357.3 3388 2358.6 3396C2359.8 3404 2360.2 3410.4 2360.5 3413.3M2360.5 3413.3L2381.6 3432.5M2373.9 3338.4L2448.9 3353.7L2456.6 3349.9M2401.8 3394.2C2403.3 3400 2401.6 3405.4 2397.9 3406.4C2394.2 3407.4 2389.9 3403.5 2388.4 3397.8C2386.9 3392.1 2388.6 3386.6 2392.3 3385.6C2396 3384.6 2400.2 3388.5 2401.8 3394.2ZM2473.9 3301.8L2464.3 3349.9M2500.8 3295.3L2477.7 3349.9L2464.3 3371L2464.3 3380.6L2530 3346M2525.6 3331.7C2526.3 3335.5 2521.7 3339.4 2515.4 3340.6C2509.2 3341.7 2503.5 3339.5 2502.9 3335.7C2502.2 3332 2506.8 3328 2513 3326.9C2519.3 3325.8 2524.9 3328 2525.6 3331.7ZM2530 3292.2C2528.3 3293.8 2521.4 3298.6 2520 3301.8C2518.7 3305 2520.3 3309.2 2521.9 3311.4C2523.6 3313.7 2528.7 3314.6 2530 3315.3M2241.3 3372.9L2249 3367.2L2256.7 3371L2258.6 3469M2241.3 3372.9C2241 3375.5 2241.3 3379.4 2239.4 3388.3C2237.5 3397.3 2234 3415.2 2229.8 3426.8C2225.6 3438.3 2219.5 3449.2 2214.4 3457.5C2209.3 3465.8 2201.6 3473.5 2199 3476.7M2204.8 3476.7L2218.3 3479.8L2241.3 3476.7L2299 3472.9L2302.8 3476.7L2224 3520.9M2287.5 3403.7L2293.2 3399.9L2299 3403.7L2300.9 3472.9M2287.5 3403.7C2286.8 3408.2 2286.2 3420.4 2283.6 3430.6C2281 3440.9 2275.3 3458.2 2272.1 3465.2C2268.9 3472.2 2265.7 3471.6 2264.4 3472.9M2258.6 3453.7C2256.7 3454 2249.7 3454 2247.1 3455.6C2244.5 3457.2 2242.9 3460.7 2243.2 3463.3C2243.6 3465.8 2246.4 3470 2249 3471C2251.6 3471.9 2257 3469.4 2258.6 3469M2149.1 3494L2189.4 3472.9L2199 3478.7M2152.9 3511.3L2164.4 3501.7L2210.6 3492.1L2218.3 3497.9L2220.2 3519L2183.7 3557.5L2174.1 3557.5L2172.9 3545.9L2164.4 3534.4L2156.8 3538.2L2154.8 3549.8L2164.4 3563.2M2210.6 3492.1L2177.9 3534.4L2179.8 3555.5M2164.4 3532.5L2176 3530.5L2179.8 3538.2M2218.3 3497.9C2219.5 3497.2 2223.1 3493.7 2225.9 3494C2228.8 3494.3 2234.3 3497.6 2235.6 3499.8C2236.8 3502 2235.9 3505.9 2233.6 3507.5C2231.4 3509.1 2224 3509.1 2222.1 3509.4M2302.8 3476.7L2530 3357.6M2199 3650.1L2530 3457.5M2224 3522.1L2381.6 3432.5M2270.6 3583.1C2272.8 3586.2 2270.1 3591.9 2264.5 3595.8C2258.9 3599.7 2252.7 3600.3 2250.5 3597.2C2248.3 3594 2251 3588.4 2256.6 3584.5C2262.1 3580.6 2268.4 3579.9 2270.6 3583.1ZM2418.1 3557.5L2452.7 3536.3L2460.4 3538.2L2470 3584.4L2462.3 3590.1L2425.8 3569L2418.1 3557.5M2460.3 3565.1C2461.1 3569.7 2456.6 3574.3 2450.4 3575.4C2444.1 3576.5 2438.3 3573.7 2437.5 3569.1C2436.7 3564.5 2441.2 3559.8 2447.4 3558.7C2453.7 3557.6 2459.4 3560.5 2460.3 3565.1ZM2375.9 3578.6L2383.5 3575.9L2429.7 3599.7L2431.6 3605.5L2397 3628.6L2387.4 3626.6L2375.9 3578.6M2414.9 3602.9C2415.4 3605.6 2412.1 3608.5 2407.5 3609.3C2402.9 3610.1 2398.8 3608.5 2398.3 3605.8C2397.8 3603.1 2401.1 3600.2 2405.7 3599.4C2410.3 3598.6 2414.5 3600.2 2414.9 3602.9ZM2308.6 3617L2345.1 3597.8L2352.8 3599.7L2362.4 3650.1M2308.6 3617L2308.6 3626.6L2325.9 3640.1L2356.6 3650.1M2485.4 3519L2491.2 3513.2L2498.9 3513.2L2530 3530.5M2485.4 3519L2495 3563.2L2506.6 3569L2530 3559.4M2268.2 3642L2277.8 3638.2L2302.8 3650.1M2530 3572.8L2387.4 3650.1"/>
<path class="l4" d="M2079.9 3626.6C2083.1 3628.9 2091.4 3637.2 2099.1 3640.1C2106.8 3643 2117.7 3644.9 2126 3643.9C2134.3 3643 2142.7 3639.8 2149.1 3634.3C2155.5 3628.9 2161.9 3615.1 2164.4 3611.3M2172.1 3623.6L2179.8 3624.7L2268.2 3557.5M2268.2 3557.5C2274 3552.6 2287.5 3539.5 2302.8 3528.6C2318.2 3517.7 2338.1 3506.5 2360.5 3492.1C2382.9 3477.7 2409.1 3459.1 2437.4 3442.1C2465.6 3425.2 2514.6 3398.9 2530 3390.2M2260.5 3563.2L2275.9 3551.7"/>
<path class="l2" d="M2086.4 3561.7C2086.9 3564.7 2086.5 3567.2 2085.4 3567.4C2084.4 3567.5 2083.1 3565.3 2082.6 3562.4C2082.1 3559.5 2082.5 3556.9 2083.6 3556.8C2084.6 3556.6 2085.9 3558.8 2086.4 3561.7ZM2095.6 3610.9C2096.4 3615.5 2096.1 3619.4 2094.8 3619.6C2093.5 3619.8 2091.9 3616.3 2091.1 3611.7C2090.3 3607.1 2090.6 3603.2 2091.9 3602.9C2093.1 3602.7 2094.8 3606.3 2095.6 3610.9ZM2306.1 3351.9C2305 3356 2302 3358.8 2299.3 3358.1C2296.6 3357.4 2295.4 3353.5 2296.5 3349.4C2297.6 3345.3 2300.6 3342.5 2303.3 3343.2C2305.9 3343.9 2307.2 3347.8 2306.1 3351.9ZM2341.1 3381.8C2340 3385.9 2337.1 3388.7 2334.7 3388.1C2332.2 3387.4 2331.1 3383.5 2332.2 3379.4C2333.3 3375.3 2336.2 3372.5 2338.6 3373.2C2341.1 3373.9 2342.2 3377.7 2341.1 3381.8ZM2399.2 3394.9C2400.3 3399 2399.3 3402.8 2397.1 3403.4C2394.8 3404 2392.1 3401.2 2391 3397.1C2389.9 3393 2390.8 3389.2 2393.1 3388.6C2395.3 3388 2398.1 3390.8 2399.2 3394.9ZM2467.3 3357.6C2467.3 3362.2 2464.6 3366 2461.2 3366C2457.8 3366 2455 3362.2 2455 3357.6C2455 3352.9 2457.8 3349.1 2461.2 3349.1C2464.6 3349.1 2467.3 3352.9 2467.3 3357.6ZM2521.1 3332.5C2521.4 3334.6 2518.7 3336.9 2514.9 3337.5C2511.1 3338.2 2507.8 3337 2507.4 3334.9C2507.1 3332.8 2509.8 3330.6 2513.6 3330C2517.3 3329.3 2520.7 3330.4 2521.1 3332.5ZM2245.9 3376.8C2245.6 3379.4 2245.9 3383.5 2244 3392.2C2242.1 3400.8 2238.6 3417.5 2234.4 3428.7C2230.2 3439.9 2223.8 3451.4 2219 3459.4C2214.3 3467.4 2208.1 3473.8 2206 3476.7M2260.5 3372.2L2261.3 3469M2292.1 3405.6C2291.4 3410.1 2290.8 3422.3 2288.2 3432.5C2285.7 3442.8 2278.6 3461.4 2276.7 3467.1M2176 3619.7L2264.4 3553.6L2360.5 3486.3L2530 3384.5M2268.1 3584.8C2269.4 3586.7 2267.1 3590.7 2263 3593.6C2258.8 3596.5 2254.3 3597.3 2253 3595.4C2251.6 3593.5 2253.9 3589.6 2258.1 3586.7C2262.3 3583.7 2266.8 3582.9 2268.1 3584.8ZM2422.8 3558.2L2454.7 3540.2M2456.5 3565.9C2456.9 3568.4 2454.2 3570.9 2450.5 3571.6C2446.7 3572.3 2443.3 3570.8 2442.8 3568.3C2442.4 3565.8 2445.1 3563.2 2448.9 3562.5C2452.6 3561.9 2456 3563.4 2456.5 3565.9ZM2443.1 3574.7L2452.7 3561.3M2381.6 3582.4L2391.2 3622.8M2410.4 3603.7C2410.6 3604.9 2409.1 3606.2 2407 3606.6C2404.9 3607 2403 3606.3 2402.8 3605C2402.6 3603.8 2404.1 3602.4 2406.2 3602.1C2408.3 3601.7 2410.2 3602.4 2410.4 3603.7ZM2322 3611.3L2352.8 3645.9M2491.2 3545.9L2530 3542.1"/>
<path class="f" d="M2216.3 3519.8C2216.3 3521.9 2215.1 3523.6 2213.6 3523.6C2212.2 3523.6 2211 3521.9 2211 3519.8C2211 3517.7 2212.2 3515.9 2213.6 3515.9C2215.1 3515.9 2216.3 3517.7 2216.3 3519.8Z"/>
</g>
<g id="51_frame_ur">
<path class="l" d="M2530 3240.3C2535.8 3237.4 2549.8 3231 2565.3 3223C2580.8 3215 2607.6 3199.8 2623 3192.3C2638.4 3184.7 2647.3 3180.8 2657.6 3177.7C2667.8 3174.6 2676.1 3173.6 2684.5 3173.8C2692.8 3174 2700.5 3175.8 2707.5 3178.8C2714.6 3181.9 2721 3186.8 2726.8 3192.3C2732.5 3197.7 2737 3205.1 2742.1 3211.5C2747.3 3217.9 2751.7 3225.9 2757.5 3230.7C2763.3 3235.5 2770.3 3238.7 2776.7 3240.3C2783.1 3241.9 2789.2 3241.4 2795.9 3240.3C2802.7 3239.2 2813.6 3234.9 2817.1 3233.8M2719.1 3188.4L2692.2 3244.2L2672.9 3276.8L2646 3346L2603.8 3426.8M2786.3 3242.3L2772.9 3273L2696 3434.4L2592.2 3650.1M2726.8 3203.8L2734.4 3201.9L2753.7 3226.9L2719.1 3236.5L2715.2 3228.8M2672.9 3276.8C2674.2 3279.4 2676.1 3288.9 2680.6 3292.2C2685.1 3295.6 2690.9 3296.2 2699.9 3296.8C2708.8 3297.5 2728.7 3296.2 2734.4 3296.1M2734.4 3296.1L2734.4 3303.8M2674.9 3273L2619.1 3298M2501.9 3294.1L2546.1 3269.2L2598 3303.8L2596.1 3309.5L2469.2 3382.6L2461.5 3380.6L2459.6 3371L2501.9 3294.1M2563.8 3304.5C2563.8 3312.6 2553.8 3319.1 2541.5 3319.1C2529.2 3319.1 2519.2 3312.6 2519.2 3304.5C2519.2 3296.5 2529.2 3289.9 2541.5 3289.9C2553.8 3289.9 2563.8 3296.5 2563.8 3304.5ZM2525.3 3333.4C2525.3 3337.2 2520.5 3340.3 2514.6 3340.3C2508.6 3340.3 2503.8 3337.2 2503.8 3333.4C2503.8 3329.5 2508.6 3326.4 2514.6 3326.4C2520.5 3326.4 2525.3 3329.5 2525.3 3333.4ZM2530 3298L2501.9 3294.1M2473.1 3301.8L2463.5 3349.9M2473.1 3349.9C2470.8 3350.2 2462.8 3349.9 2459.6 3351.8C2456.4 3353.7 2453.8 3358.2 2453.8 3361.4C2453.8 3364.6 2458.6 3369.4 2459.6 3371M2557.6 3436.4L2563.4 3432.5L2569.2 3438.3L2565.3 3446L2559.6 3446L2557.6 3436.4M2569.2 3436.4L2609.5 3415.2M2450 3501.7L2557.6 3444.1M2603.8 3426.8C2603.1 3430.6 2598.6 3441.5 2599.9 3449.8C2601.2 3458.2 2605.7 3469.4 2611.4 3476.7C2617.2 3484.1 2629.1 3490.2 2634.5 3494C2640 3497.9 2641.6 3496.9 2644.1 3499.8C2646.7 3502.7 2649.6 3508.8 2649.9 3511.3C2650.2 3513.9 2646.7 3514.5 2646 3515.2M2646 3515.2L2630.7 3551.7L2619.1 3563.2L2465.4 3650.1M2450 3615.1L2638.4 3507.5M2697.9 3429.8L2815.2 3429.8M2511.5 3630.5L2500 3650.1M2469.2 3650.1L2500 3645.9"/>
<path class="l4" d="M2694.1 3246.1C2697 3249.6 2704 3261.8 2711.4 3267.2C2718.8 3272.7 2728.7 3276.8 2738.3 3278.8C2747.9 3280.7 2763.9 3278.8 2769 3278.8M2715.2 3228.8L2726.8 3203.8M2467.3 3380.6L2596.1 3307.6M2530 3396L2734.4 3303M2542.3 3484.4C2544.2 3483.5 2545.5 3476.1 2553.8 3478.7C2562.1 3481.2 2585 3494.7 2592.2 3499.8C2599.4 3504.9 2597.5 3506.3 2596.8 3509.4C2596.2 3512.5 2591.7 3517 2588.4 3518.2C2585 3519.5 2584.2 3520.8 2576.8 3517.1C2569.5 3513.4 2549.9 3501.4 2544.2 3495.9C2538.4 3490.5 2542.6 3486.3 2542.3 3484.4M2484.6 3519L2492.3 3513.2L2536.5 3538.2L2538.4 3545.9L2500 3567.1L2492.3 3563.2L2484.6 3519M2450 3538.2L2461.5 3542.1L2469.2 3588.2L2450 3580.5"/>
<path class="l2" d="M2734.4 3207.7L2738.3 3221.1M2634.5 3294.5C2634.5 3296.7 2632.8 3298.4 2630.7 3298.4C2628.5 3298.4 2626.8 3296.7 2626.8 3294.5C2626.8 3292.4 2628.5 3290.7 2630.7 3290.7C2632.8 3290.7 2634.5 3292.4 2634.5 3294.5ZM2526.9 3313.4C2528.2 3311.1 2530.1 3302.8 2534.6 3299.9C2539 3297 2550.6 3296.7 2553.8 3296.1M2538.4 3317.2L2544.2 3298M2521.5 3334.5C2521.5 3336.6 2518.4 3338.4 2514.6 3338.4C2510.8 3338.4 2507.7 3336.6 2507.7 3334.5C2507.7 3332.4 2510.8 3330.7 2514.6 3330.7C2518.4 3330.7 2521.5 3332.4 2521.5 3334.5ZM2530 3391.4L2732.5 3299.1M2573 3490.2L2569.2 3505.6M2490.4 3545.9L2536.5 3542.1"/>
<text class="t" style="font-size:57px" x="2832.5 2865.5 2898.4 2931.4 2964.3 2997.3 3030.3 3063.2 3096.2" y="3450">Ref.Frame</text>
</g>
<g id="52_frame_ll">
<path class="l" d="M1916.5 3649.9C1917.5 3652.5 1919.4 3651.2 1922.3 3665.3C1925.2 3679.4 1930.6 3715.3 1933.8 3734.5C1937 3753.7 1939.9 3766.5 1941.5 3780.6C1943.1 3794.7 1944.1 3807.5 1943.4 3819.1C1942.8 3830.6 1940.5 3839.6 1937.7 3849.8C1934.8 3860.1 1930 3871.6 1926.1 3880.6C1922.3 3889.5 1919.1 3896.7 1914.6 3903.6C1910.1 3910.6 1901.8 3919 1899.2 3922.1M1920.4 3659.6L1937.7 3649.9M1931.9 3711.4L2037.6 3649.9M1937.7 3732.6L2087.6 3657.6M2087.6 3649.9C2091.4 3671.7 2105.2 3748.6 2110.6 3780.6C2116.1 3812.7 2117.7 3825.5 2120.2 3842.1C2122.8 3858.8 2123.8 3871.3 2126 3880.6C2128.3 3889.9 2129.9 3893.1 2133.7 3897.9C2137.5 3902.7 2142.7 3907.5 2149.1 3909.4C2155.5 3911.3 2165.7 3911.3 2172.1 3909.4C2178.5 3907.5 2181.7 3904.6 2187.5 3897.9C2193.3 3891.1 2202.9 3876.4 2206.7 3869C2210.6 3861.7 2209.9 3856.2 2210.6 3853.7M2174.1 3649.9C2176.3 3663.4 2183.7 3710.8 2187.5 3730.7C2191.4 3750.5 2193.9 3749.2 2197.1 3769.1C2200.3 3789 2205.1 3836.4 2206.7 3849.8M1958.8 3721.1L1976.1 3719.1M1958.8 3721.1L2041.4 3776.8L2114.5 3811.4M1943.4 3797.9L1976.1 3813.3L2083.7 3828.7L2095.3 3826L2114.5 3826.8M1943.4 3811.4L1976.1 3813.3M2095.3 3826.8C2092.7 3833.8 2085 3857.5 2079.9 3869C2074.8 3880.6 2069.3 3890.5 2064.5 3895.9C2059.7 3901.4 2053.3 3900.8 2051.1 3901.7M2051.1 3901.7L2053 3907.5L2110.6 3913.2L2118.3 3911.3M2114.5 3830.6C2112.6 3833.2 2105.8 3840.2 2102.9 3846C2100.1 3851.7 2097.5 3858.8 2097.2 3865.2C2096.9 3871.6 2097.8 3878 2101 3884.4C2104.2 3890.8 2112.9 3899.8 2116.4 3903.6C2119.9 3907.5 2121.2 3906.8 2122.2 3907.5M2118.3 3838.3C2119.6 3843.4 2126 3859.4 2126 3869C2126 3878.7 2118.3 3890.5 2118.3 3895.9C2118.3 3901.4 2124.7 3900.8 2126 3901.7M1926.1 3874.8C1937 3875.8 1978 3877.7 1991.5 3880.6C2004.9 3883.5 2001.1 3887.6 2006.8 3892.1C2012.6 3896.6 2018.4 3904.3 2026.1 3907.5C2033.8 3910.7 2048.5 3910.7 2053 3911.3M2053 3911.3L2126 3922.9L2133.7 3924.8M1918.4 3895.9L2126 3924.8L2218.3 3936.3L2231.7 3937.5M2206.7 3842.1L2214.4 3845.2L2229.8 3842.9L2237.5 3838.3L2249 3846L2252.9 3857.5M2177.9 3661.5L2199 3649.9M2201 3757.6L2530 3584.6M2204.8 3799.9L2530 3630.7M2187.5 3772.9L2197.1 3769.1L2199 3776.8L2191.4 3780.6L2187.5 3788.3L2191.4 3801.8L2204.8 3799.9M2206.7 3826.8L2479.6 3669.2M2254.8 3892.1L2530 3732.6M2243.2 3846L2264.4 3836.4M2312.4 3811.4L2437.4 3738.4M2485.4 3709.5L2502.7 3699.9M2298.5 3852.7C2296.3 3858.7 2291 3862.3 2286.6 3860.7C2282.2 3859.1 2280.4 3852.9 2282.6 3846.9C2284.8 3840.9 2290.1 3837.4 2294.5 3839C2298.9 3840.6 2300.7 3846.7 2298.5 3852.7ZM2472.2 3752.8C2470 3758.8 2464.7 3762.3 2460.3 3760.7C2455.9 3759.1 2454.1 3753 2456.3 3747C2458.5 3741 2463.8 3737.4 2468.2 3739C2472.6 3740.6 2474.4 3746.8 2472.2 3752.8ZM2425.8 3655.7L2530 3719.1"/>
<path class="l2" d="M2101 3738.4C2100.7 3740.3 2098.5 3744.8 2099.1 3749.9C2099.7 3755 2102.9 3764 2104.9 3769.1C2106.8 3774.2 2109.7 3778.7 2110.6 3780.6M1962.6 3724.9L2045.3 3780.6L2114.5 3805.6M2026.1 3909.4L2126 3922.1M2206.7 3847.9L2235.6 3844.1M2214.4 3699.9C2216 3699.6 2222.1 3696.7 2224 3698C2225.9 3699.3 2226.9 3705 2225.9 3707.6C2225 3710.2 2219.5 3712.4 2218.3 3713.4M2275.9 3669.2L2299 3665.3L2314.4 3674.9M2322 3615.3L2352.8 3632.6M2266.3 3832.5L2306.7 3811.4M2268.2 3836.4L2308.6 3815.2M2294.9 3851.4C2293.4 3855.4 2290.3 3857.9 2287.9 3857C2285.5 3856.2 2284.7 3852.2 2286.2 3848.2C2287.6 3844.3 2290.8 3841.7 2293.2 3842.6C2295.5 3843.5 2296.3 3847.4 2294.9 3851.4ZM2441.2 3731.4L2481.6 3710.7M2442 3736.4L2482.7 3716.1M2468.6 3751.5C2467.2 3755.4 2464 3758 2461.6 3757.1C2459.2 3756.2 2458.5 3752.3 2459.9 3748.3C2461.4 3744.3 2464.5 3741.8 2466.9 3742.7C2469.3 3743.5 2470.1 3747.5 2468.6 3751.5Z"/>
<path class="l4" d="M1928 3876L1991.5 3881.3M2250.9 3893.3C2249.2 3917.9 2240.1 3937.3 2230.5 3936.6C2221 3935.9 2214.7 3915.5 2216.4 3890.9C2218.1 3866.3 2227.2 3847 2236.7 3847.6C2246.3 3848.3 2252.6 3868.7 2250.9 3893.3ZM2322 3738.4L2364.3 3715.3M2206.7 3676.8C2208 3675.9 2211.2 3671.7 2214.4 3671.1C2217.6 3670.4 2223.1 3671.4 2225.9 3673C2228.8 3674.6 2229.5 3673.6 2231.7 3680.7C2234 3687.7 2239.1 3708.2 2239.4 3715.3C2239.7 3722.3 2236.5 3721.7 2233.6 3723C2230.8 3724.3 2225.3 3724.3 2222.1 3723C2218.9 3721.7 2217 3723 2214.4 3715.3C2211.9 3707.6 2208 3683.3 2206.7 3676.8M2270.2 3642.3L2277.8 3637.6L2322 3661.5L2324 3669.2L2287.5 3690.3L2279.8 3688.4L2270.2 3642.3M2306.7 3621.1L2314.4 3611.5L2345.1 3598L2354.7 3601.9L2362.4 3648L2356.6 3653L2308.6 3626.9L2306.7 3621.1M2262.5 3826.8L2302.8 3805.6L2308.6 3809.5L2310.5 3819.1L2272.1 3842.1L2266.3 3838.3L2262.5 3826.8M2437.4 3726.8L2475.8 3705.7L2483.5 3711.4L2483.5 3721.1L2445.1 3742.2L2439.3 3736.4L2437.4 3726.8"/>
</g>
<g id="53_frame_lr">
<path class="l" d="M2592.2 3649.9L2584.5 3663.4M2465.4 3649.9L2450 3658.4M2509.6 3628.8L2503.8 3642.3L2501.9 3649.9L2507.7 3657.6L2517.3 3664.5L2549.9 3659.6L2573 3661.5L2584.5 3663.4M2530 3617.3L2509.6 3628.8M2486.5 3653.8L2501.9 3646.1M2486.5 3653.8L2484.6 3661.5L2500 3682.6L2494.2 3694.1M2490.4 3659.6L2496.1 3658.8L2513.4 3684.5L2513.4 3694.1L2503.8 3701.8L2501.9 3719.1L2507.7 3738.4L2526.9 3734.5M2513.4 3694.1L2523 3723L2538.4 3738.4M2600.7 3705.7C2600.7 3726.9 2584 3744.1 2563.4 3744.1C2542.8 3744.1 2526.1 3726.9 2526.1 3705.7C2526.1 3684.4 2542.8 3667.2 2563.4 3667.2C2584 3667.2 2600.7 3684.4 2600.7 3705.7ZM2596.1 3705.7C2596.1 3725.2 2580.9 3741 2562.2 3741C2543.6 3741 2528.4 3725.2 2528.4 3705.7C2528.4 3686.1 2543.6 3670.3 2562.2 3670.3C2580.9 3670.3 2596.1 3686.1 2596.1 3705.7ZM2530 3716.1L2569.2 3738.4L2663.3 3792.9M2486.5 3707.6L2500 3699.9M2546.1 3871L2822.9 3712.2L2827.5 3714.5L2827.5 3738.4L2550.7 3897.9L2546.1 3897.9L2545.3 3872.9M2686.4 3821L2686.4 3936.3"/>
<path class="f" d="M2559.6 3726.8C2559.6 3728.3 2557.8 3729.5 2555.7 3729.5C2553.6 3729.5 2551.9 3728.3 2551.9 3726.8C2551.9 3725.3 2553.6 3724.1 2555.7 3724.1C2557.8 3724.1 2559.6 3725.3 2559.6 3726.8Z"/>
<path class="l4" d="M2530 3734.5L2538.4 3738.4M2546.9 3869.8L2822.9 3711.4"/>
<text class="t" style="font-size:57px" x="2621.1 2653.8 2686.4 2719 2751.7" y="3987.4">28012</text>
</g>
<g id="60_small_r">
<path class="l" d="M2754.1 1813L2978.5 1788.3M2738.5 1688.5L2738.5 1807.2M2793.8 1953.6L2789.9 1956.8L2744.3 1885.3L2735.2 1813.7L2735.2 1808.8L2739.4 1806.5M2898.8 1867.4L2899.8 1885.3L2903.7 1891.8L2904.3 1917.8L2899.8 1924.3L2897.2 1930.8M2854.3 1803.3L2850 1813.7L2854.3 1854.4L2861.4 1862.5L2863 1882L2895.6 1930.8L2897.8 1930.8M2896.5 1930.8L2896.5 2045.6M2989.9 1781.2L3019.2 1777.3L3020.8 1787.7L2991.5 1790.3L2989.9 1781.2M3020.8 1779.5L3098.8 1771.4L3107 1773L3098.8 1777.3L3022.4 1785.1M3019.2 1655.9L3019.2 1774.7M2095.9 1762.8L2095.9 1881.1M2110.1 1890.5L2200 1879.9"/>
<path class="l4" d="M2739.4 1806.5L2793.1 1885.3L2793.8 1953.6M2854.3 1803.3L2898.8 1867.4"/>
<path class="f" d="M2750.2 1883.6C2750.2 1885.4 2749 1886.9 2747.6 1886.9C2746.1 1886.9 2745 1885.4 2745 1883.6C2745 1881.8 2746.1 1880.4 2747.6 1880.4C2749 1880.4 2750.2 1881.8 2750.2 1883.6ZM2792.5 1893.4C2792.5 1895.2 2791.3 1896.6 2789.9 1896.6C2788.4 1896.6 2787.3 1895.2 2787.3 1893.4C2787.3 1891.6 2788.4 1890.1 2789.9 1890.1C2791.3 1890.1 2792.5 1891.6 2792.5 1893.4ZM2792.5 1947C2792.5 1948.8 2791.3 1950.3 2789.9 1950.3C2788.4 1950.3 2787.3 1948.8 2787.3 1947C2787.3 1945.3 2788.4 1943.8 2789.9 1943.8C2791.3 1943.8 2792.5 1945.3 2792.5 1947ZM2739.1 1815.3C2739.1 1816.8 2738.2 1817.9 2737.2 1817.9C2736.1 1817.9 2735.2 1816.8 2735.2 1815.3C2735.2 1813.9 2736.1 1812.7 2737.2 1812.7C2738.2 1812.7 2739.1 1813.9 2739.1 1815.3ZM2101.6 1892.4C2101.6 1899 2099 1904.2 2095.9 1904.2C2092.8 1904.2 2090.2 1899 2090.2 1892.4C2090.2 1885.9 2092.8 1880.6 2095.9 1880.6C2099 1880.6 2101.6 1885.9 2101.6 1892.4Z"/>
<path class="l2" d="M2997.4 1785.1C2997.4 1787.4 2995.9 1789.3 2994.1 1789.3C2992.3 1789.3 2990.9 1787.4 2990.9 1785.1C2990.9 1782.7 2992.3 1780.8 2994.1 1780.8C2995.9 1780.8 2997.4 1782.7 2997.4 1785.1ZM3022.4 1782.1L3102.1 1774"/>
<path class="l5" d="M3019.5 1774L3021.1 1791.6"/>
<text class="t" style="font-size:57px" x="2670.4 2703.8 2737.2 2770.6 2804" y="1677.1">13272</text>
<text class="t" style="font-size:57px" x="2936.7 2970 3003.3 3036.6 3069.9 3103.2" y="1644.6">92039A</text>
<text class="t" style="font-size:57px" x="2813 2846 2879 2912 2945 2978" y="2099.6">28012B</text>
<text class="t" style="font-size:57px" x="2030.2 2063.3 2096.5 2129.7 2162.8" y="1752.1">92200</text>
</g>
<g id="61_small_ll">
<path class="l" d="M399.6 3100.2L518.4 3100.2M499.8 3152.2L413.6 3310M499.8 3205.9L482.6 3202.6L481 3212.4L475.4 3217.3L498.8 3244.9L499.8 3244.3M401.3 3326.2L396.4 3339.2M411 3327.8L405.2 3342.5M406.5 3339.2C408.1 3342 405.6 3346.5 400.9 3349.2C396.3 3351.9 391.2 3351.8 389.6 3349C388 3346.2 390.4 3341.7 395.1 3339C399.8 3336.3 404.9 3336.4 406.5 3339.2ZM393.1 3349L367.1 3397.8L368.7 3401.7L373.6 3397.8L398.7 3350.6M271.2 3338.6L389.9 3338.6M731.1 2472.1L849.9 2472.1M865 2476.2C865 2478.4 862.7 2480.2 859.8 2480.2C856.9 2480.2 854.6 2478.4 854.6 2476.2C854.6 2473.9 856.9 2472.1 859.8 2472.1C862.7 2472.1 865 2473.9 865 2476.2ZM855.8 2486.3L789.6 2605.8"/>
<path class="l2" d="M409.5 3321.7C410.2 3322.9 409.3 3324.8 407.5 3325.9C405.6 3327 403.5 3326.8 402.8 3325.6C402.1 3324.3 403 3322.4 404.8 3321.4C406.7 3320.3 408.8 3320.4 409.5 3321.7ZM395.7 3350.6L370.4 3397.8"/>
<path class="l4" d="M871.9 2476.2C871.9 2481.7 866.8 2486.1 860.5 2486.1C854.2 2486.1 849.2 2481.7 849.2 2476.2C849.2 2470.7 854.2 2466.2 860.5 2466.2C866.8 2466.2 871.9 2470.7 871.9 2476.2Z"/>
<text class="t" style="font-size:57px" x="247 280.4 313.8 347.2 380.6" y="3121.3">13272</text>
<text class="t" style="font-size:57px" x="88.9 122 155.1 188.2 221.3 254.4" y="3360.4">92039A</text>
<text class="t" style="font-size:57px" x="581.9 615.1 648.2 681.4 714.6" y="2492.3">92200</text>
</g>
<g id="70_labels">
<text class="t" style="font-size:55px" x="1836.8 1870.2 1903.5 1936.9 1970.3 2003.7 2037 2070.4 2103.8 2137.2 2170.5 2203.9 2237.3 2270.6 2304 2337.4 2370.8 2404.1 2437.5" y="515.6">Ref.Front Fender(s)</text>
<path class="l" d="M2137 526.5L2137 641"/>
<text class="t" style="font-size:55px" x="586.2 619.6 652.9 686.3 719.7 753.1 786.4 819.8 853.2 886.6 919.9 953.3 986.7 1020 1053.4 1086.8 1120.2 1153.5 1186.9" y="1227.1">Ref.Front Fender(s)</text>
<path class="l" d="M887.3 1237.2L887.3 1351.3"/>
<text class="t" style="font-size:55px" x="1104.6 1138 1171.3 1204.7 1238.1 1271.5 1304.8 1338.2 1371.6 1404.9 1438.3 1471.7 1505 1538.4 1571.8 1605.2 1638.5 1671.9" y="3503">Ref.Rear Fender(s)</text>
<path class="l" d="M1389.1 3337.5L1389.1 3451.7"/>
<text class="t" style="font-size:50.5px" x="2914 2943.3 2972.6 3001.9 3031.2" y="146.5">F2790</text>
</g>
<g id="80_front_arrow">
<path class="w" d="M165.8 277.7L215.9 219.8L215.9 261.2L391 361.7L392.1 457.5L217.1 354.6L215.9 398.4Z"/>
<path class="f" d="M215.9 219.8L238.4 206.8L239.6 249.3L413.4 348.7L413.4 446.9L392.1 457.5L391 361.7L215.9 261.2ZM217.1 354.6L239.6 368.8L239.6 387.7L215.9 398.4Z"/>
<text transform="translate(197.5 322) skewY(29.9) scale(0.45 1)" style="font-family:'Liberation Sans',sans-serif;font-weight:bold;font-size:79.6px;text-anchor:middle" x="22.2 118.9 207.8 300 385.6" y="0">FRONT</text>
<text transform="translate(1639 2745) rotate(-29.9) scale(0.905 1)" style="font-family:'Liberation Sans',sans-serif;font-weight:bold;font-style:italic;font-size:70px;fill:#fff;stroke:#000;stroke-width:6px;paint-order:stroke;stroke-linejoin:round" x="0" y="0">Kawasaki</text>
</g>
</svg>
</body>
</html>
